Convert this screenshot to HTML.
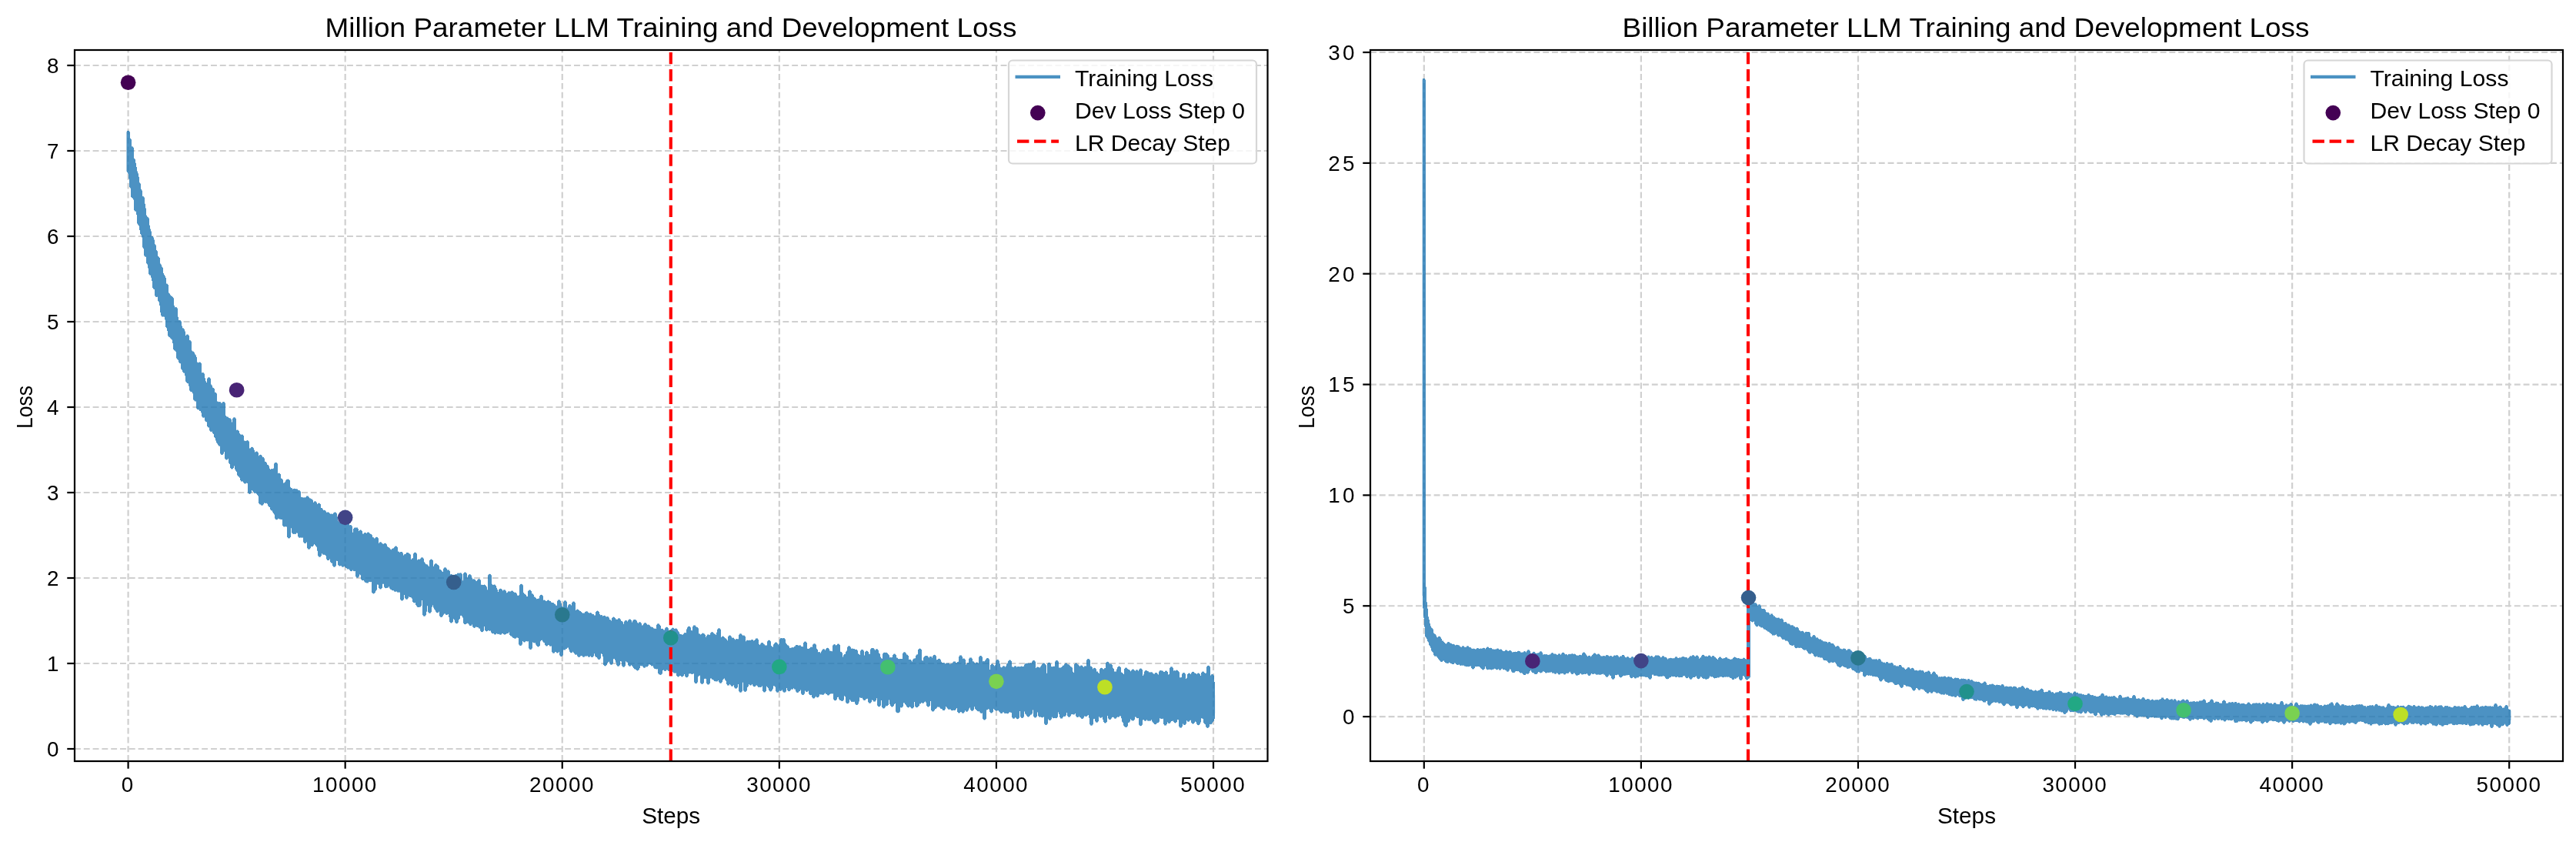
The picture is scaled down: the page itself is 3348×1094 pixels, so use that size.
<!DOCTYPE html><html><head><meta charset="utf-8"><style>html,body{margin:0;padding:0;background:#fff;}svg{display:block;will-change:transform;-webkit-font-smoothing:antialiased;}</style></head><body>
<svg width="3348" height="1094" viewBox="0 0 3348 1094" font-family='"Liberation Sans", sans-serif'>
<rect x="0" y="0" width="3348" height="1094" fill="#ffffff"/>
<clipPath id="clip0"><rect x="97.0" y="65.0" width="1550.5" height="924.0"/></clipPath>
<g clip-path="url(#clip0)" stroke="#d0d0d0" stroke-width="2.22" fill="none" stroke-dasharray="7.9 3.9">
<line x1="166.60" y1="989.0" x2="166.60" y2="65.0"/>
<line x1="448.68" y1="989.0" x2="448.68" y2="65.0"/>
<line x1="730.76" y1="989.0" x2="730.76" y2="65.0"/>
<line x1="1012.84" y1="989.0" x2="1012.84" y2="65.0"/>
<line x1="1294.92" y1="989.0" x2="1294.92" y2="65.0"/>
<line x1="1577.00" y1="989.0" x2="1577.00" y2="65.0"/>
<line x1="97.0" y1="973.00" x2="1647.5" y2="973.00"/>
<line x1="97.0" y1="862.00" x2="1647.5" y2="862.00"/>
<line x1="97.0" y1="751.00" x2="1647.5" y2="751.00"/>
<line x1="97.0" y1="640.00" x2="1647.5" y2="640.00"/>
<line x1="97.0" y1="529.00" x2="1647.5" y2="529.00"/>
<line x1="97.0" y1="418.00" x2="1647.5" y2="418.00"/>
<line x1="97.0" y1="307.00" x2="1647.5" y2="307.00"/>
<line x1="97.0" y1="196.00" x2="1647.5" y2="196.00"/>
<line x1="97.0" y1="85.00" x2="1647.5" y2="85.00"/>
</g>
<g clip-path="url(#clip0)"><path d="M164.5,171.3H165V170.0H166V169.8H167V170.0H168V171.3H169V179.7H170V180.9H171V190.2H172V190.5H173V191.7H174V205.7H175V206.9H176V211.7H177V217.0H178V222.5H179V225.3H180V229.7H181V237.3H182V238.5H183V245.8H184V247.5H185V255.0H186V255.2H187V256.5H188V264.8H189V270.5H190V279.8H191V281.4H192V282.3H193V283.6H194V292.7H195V297.6H196V300.6H197V306.9H198V307.1H199V308.4H200V311.4H201V317.2H202V318.5H203V325.1H204V326.3H205V332.7H206V333.8H207V335.0H208V342.4H209V343.7H210V346.6H211V347.8H212V355.1H213V356.9H214V358.8H215V361.0H216V368.5H217V368.8H218V370.0H219V380.4H220V381.6H221V383.2H222V384.4H223V384.7H224V385.9H225V387.2H226V397.1H227V399.3H228V399.0H229V399.3H230V400.5H231V411.7H232V415.9H233V416.0H234V416.2H235V417.5H236V423.6H237V426.2H238V426.5H239V427.7H240V430.5H241V435.9H242V434.7H243V434.4H244V434.7H245V435.9H246V442.1H247V442.3H248V443.6H249V455.5H250V456.4H251V456.7H252V457.9H253V460.2H254V461.4H255V464.0H256V470.5H257V471.2H258V470.7H259V470.5H260V470.7H261V472.0H262V484.2H263V484.0H264V484.2H265V485.5H266V491.2H267V495.3H268V497.1H269V491.8H270V490.5H271V490.3H272V490.5H273V491.8H274V499.4H275V500.7H276V503.6H277V503.9H278V505.1H279V509.7H280V510.0H281V511.2H282V521.4H283V521.7H284V522.2H285V522.0H286V522.2H287V523.5H288V523.4H289V522.2H290V521.9H291V522.2H292V523.4H293V540.0H294V541.2H295V541.4H296V541.7H297V542.9H298V543.2H299V543.5H300V544.7H301V548.4H302V543.8H303V542.5H304V542.3H305V542.5H306V543.8H307V558.8H308V558.6H309V558.8H310V560.1H311V563.0H312V564.2H313V564.8H314V564.5H315V564.8H316V566.0H317V572.6H318V572.7H319V573.0H320V572.4H321V572.1H322V572.4H323V573.6H324V582.4H325V582.2H326V581.0H327V580.7H328V581.0H329V582.2H330V584.8H331V587.6H332V586.8H333V586.6H334V586.8H335V588.1H336V592.2H337V591.0H338V590.7H339V591.0H340V592.2H341V593.9H342V594.1H343V595.4H344V599.8H345V600.0H346V601.3H347V603.7H348V604.1H349V605.4H350V608.8H351V610.1H352V609.2H353V609.0H354V609.2H355V608.6H356V602.3H357V601.1H358V600.9H359V601.1H360V602.3H361V614.9H362V614.6H363V614.9H364V616.1H365V621.5H366V622.1H367V623.3H368V627.4H369V627.2H370V626.3H371V624.3H372V623.0H373V622.8H374V622.6H375V622.9H376V624.1H377V632.8H378V634.0H379V634.3H380V635.5H381V635.1H382V634.8H383V635.1H384V635.2H385V635.2H386V635.5H387V636.7H388V637.0H389V637.3H390V638.5H391V645.8H392V646.1H393V646.3H394V646.4H395V646.2H396V646.4H397V645.9H398V644.6H399V644.4H400V644.6H401V645.9H402V647.2H403V647.4H404V648.3H405V648.6H406V649.8H407V652.7H408V651.5H409V651.2H410V651.5H411V652.7H412V655.1H413V653.9H414V653.6H415V653.9H416V655.1H417V659.9H418V660.1H419V661.4H420V663.0H421V662.8H422V663.0H423V664.3H424V665.8H425V665.5H426V665.5H427V665.7H428V667.0H429V667.8H430V667.6H431V667.8H432V667.8H433V666.5H434V665.7H435V665.4H436V665.7H437V666.9H438V671.3H439V676.4H440V677.5H441V678.7H442V678.6H443V677.4H444V677.1H445V677.4H446V673.3H447V672.1H448V671.8H449V672.1H450V673.3H451V677.8H452V678.0H453V679.3H454V682.2H455V681.9H456V682.2H457V683.4H458V691.8H459V687.0H460V685.7H461V685.5H462V685.6H463V685.4H464V685.6H465V686.9H466V690.0H467V688.8H468V688.5H469V688.8H470V690.0H471V693.5H472V693.4H473V692.2H474V691.9H475V692.2H476V693.1H477V691.8H478V691.6H479V691.8H480V693.1H481V693.8H482V694.1H483V695.3H484V698.0H485V698.3H486V699.5H487V699.2H488V698.0H489V697.7H490V698.0H491V699.2H492V705.8H493V704.6H494V704.3H495V704.6H496V705.8H497V706.4H498V706.7H499V705.9H500V705.7H501V705.9H502V707.2H503V710.1H504V711.0H505V711.3H506V712.2H507V713.4H508V714.2H509V713.0H510V712.5H511V712.2H512V711.0H513V709.8H514V709.5H515V709.8H516V711.0H517V716.4H518V716.7H519V717.7H520V717.1H521V716.9H522V717.1H523V718.4H524V721.4H525V720.2H526V719.9H527V719.4H528V718.1H529V717.9H530V718.1H531V719.1H532V719.4H533V720.6H534V726.8H535V725.6H536V725.3H537V719.3H538V718.1H539V717.8H540V718.1H541V719.3H542V727.5H543V726.7H544V726.4H545V726.7H546V725.8H547V724.5H548V724.3H549V724.5H550V725.8H551V730.2H552V731.5H553V733.0H554V733.2H555V733.4H556V734.7H557V735.9H558V728.1H559V726.9H560V726.6H561V726.9H562V728.1H563V735.8H564V733.6H565V732.4H566V732.1H567V732.4H568V733.6H569V734.0H570V735.2H571V739.8H572V740.0H573V740.9H574V742.2H575V743.1H576V738.8H577V737.6H578V737.3H579V737.6H580V738.8H581V740.6H582V740.4H583V740.6H584V741.9H585V746.2H586V745.9H587V746.2H588V747.4H589V748.7H590V747.4H591V746.2H592V746.0H593V746.0H594V744.7H595V744.5H596V744.7H597V744.6H598V744.3H599V744.6H600V745.8H601V754.2H602V745.0H603V743.8H604V743.5H605V743.8H606V745.0H607V750.2H608V747.6H609V746.4H610V746.1H611V746.4H612V747.6H613V750.4H614V752.5H615V752.2H616V752.5H617V753.1H618V754.4H619V755.1H620V753.6H621V752.4H622V752.1H623V752.4H624V753.6H625V759.7H626V759.7H627V760.0H628V759.9H629V759.6H630V759.9H631V761.1H632V762.4H633V766.3H634V747.2H635V746.0H636V745.7H637V746.0H638V747.2H639V758.8H640V759.9H641V759.7H642V759.4H643V759.7H644V760.9H645V763.8H646V766.0H647V768.9H648V766.1H649V764.9H650V764.7H651V764.9H652V766.1H653V767.5H654V766.4H655V766.2H656V766.4H657V767.7H658V770.3H659V769.7H660V768.5H661V768.2H662V768.5H663V768.4H664V767.7H665V767.5H666V767.7H667V769.0H668V769.8H669V769.8H670V770.1H671V771.3H672V773.6H673V774.1H674V773.2H675V760.3H676V759.1H677V758.8H678V759.1H679V760.3H680V769.9H681V771.4H682V771.7H683V772.9H684V774.8H685V775.0H686V768.0H687V766.8H688V766.5H689V766.8H690V768.0H691V771.3H692V771.5H693V772.7H694V775.5H695V775.8H696V777.0H697V778.3H698V778.1H699V777.7H700V777.4H701V774.2H702V772.9H703V772.7H704V772.9H705V774.2H706V779.8H707V779.6H708V779.9H709V781.1H710V781.1H711V779.9H712V779.6H713V779.9H714V780.9H715V781.1H716V782.4H717V782.9H718V783.1H719V783.3H720V784.6H721V785.1H722V786.4H723V786.7H724V780.7H725V779.5H726V779.2H727V779.5H728V780.7H729V783.7H730V787.5H731V788.6H732V781.8H733V780.5H734V780.3H735V780.5H736V781.8H737V789.3H738V786.6H739V785.3H740V785.1H741V785.3H742V786.6H743V783.1H744V781.8H745V781.6H746V781.8H747V783.1H748V793.1H749V791.9H750V791.6H751V791.9H752V792.7H753V793.8H754V794.0H755V794.9H756V796.1H757V796.7H758V796.5H759V796.4H760V795.1H761V794.5H762V794.3H763V794.5H764V795.7H765V796.2H766V796.4H767V796.1H768V796.4H769V797.6H770V797.9H771V798.1H772V799.4H773V799.4H774V795.1H775V793.9H776V793.6H777V793.9H778V795.1H779V798.0H780V799.2H781V799.1H782V799.3H783V800.6H784V800.0H785V799.8H786V800.0H787V801.3H788V801.2H789V801.0H790V801.2H791V802.5H792V805.0H793V805.3H794V806.5H795V803.1H796V801.9H797V801.6H798V801.9H799V803.1H800V804.4H801V804.7H802V804.7H803V803.4H804V803.2H805V803.4H806V804.7H807V806.7H808V807.0H809V808.2H810V810.7H811V807.4H812V806.2H813V805.9H814V806.2H815V807.4H816V805.9H817V804.7H818V804.4H819V804.7H820V805.9H821V808.4H822V806.6H823V805.3H824V805.1H825V805.1H826V805.4H827V806.6H828V808.7H829V809.7H830V808.4H831V808.2H832V808.4H833V809.7H834V812.6H835V812.3H836V810.6H837V809.4H838V809.1H839V809.4H840V810.6H841V811.8H842V811.6H843V811.8H844V812.6H845V813.9H846V814.4H847V814.7H848V814.9H849V816.2H850V816.7H851V816.6H852V816.9H853V811.7H854V810.4H855V810.2H856V810.4H857V811.7H858V812.9H859V816.9H860V816.7H861V816.9H862V818.2H863V818.4H864V816.3H865V815.1H866V814.8H867V815.1H868V816.3H869V819.1H870V818.3H871V818.0H872V817.1H873V815.9H874V815.6H875V815.9H876V817.1H877V816.7H878V816.4H879V816.7H880V817.9H881V819.9H882V821.3H883V823.6H884V823.9H885V824.1H886V824.7H887V824.4H888V823.5H889V822.3H890V822.1H891V822.3H892V817.6H893V815.3H894V814.0H895V813.8H896V814.0H897V815.3H898V818.9H899V819.2H900V813.9H901V812.6H902V812.4H903V812.6H904V813.9H905V814.8H906V815.1H907V816.3H908V823.2H909V823.4H910V824.5H911V824.1H912V822.9H913V822.6H914V822.9H915V823.5H916V824.7H917V827.7H918V825.9H919V824.6H920V824.4H921V824.6H922V824.9H923V822.6H924V821.4H925V821.1H926V821.4H927V822.4H928V823.4H929V823.7H930V824.9H931V821.7H932V817.8H933V816.5H934V816.3H935V816.5H936V817.8H937V828.1H938V826.9H939V826.6H940V826.9H941V828.1H942V829.2H943V829.5H944V830.7H945V832.2H946V827.1H947V825.8H948V825.6H949V825.8H950V827.1H951V828.7H952V828.4H953V828.7H954V829.9H955V831.3H956V830.3H957V830.0H958V830.3H959V830.2H960V824.7H961V823.5H962V823.2H963V823.5H964V824.7H965V825.7H966V825.4H967V825.7H968V826.9H969V833.2H970V832.0H971V831.7H972V832.0H973V831.9H974V831.7H975V831.9H976V831.3H977V831.0H978V831.3H979V832.5H980V832.1H981V830.9H982V829.6H983V829.4H984V829.6H985V830.9H986V837.1H987V838.1H988V836.4H989V835.2H990V834.9H991V835.2H992V836.4H993V837.2H994V838.5H995V838.6H996V838.4H997V833.3H998V832.0H999V831.8H1000V832.0H1001V833.3H1002V838.9H1003V840.2H1004V840.4H1005V837.2H1006V836.0H1007V834.7H1008V834.5H1009V834.7H1010V836.0H1011V837.4H1012V836.2H1013V830.5H1014V829.2H1015V829.0H1016V829.2H1017V829.3H1018V829.0H1019V829.3H1020V830.5H1021V835.6H1022V836.9H1023V838.3H1024V838.5H1025V839.8H1026V841.9H1027V841.7H1028V841.5H1029V841.2H1030V841.0H1031V841.3H1032V840.0H1033V839.4H1034V838.1H1035V837.9H1036V838.1H1037V838.8H1038V838.6H1039V838.4H1040V838.6H1041V839.9H1042V839.9H1043V840.2H1044V835.0H1045V833.7H1046V833.5H1047V833.7H1048V835.0H1049V842.7H1050V842.9H1051V842.7H1052V842.0H1053V840.7H1054V840.5H1055V840.7H1056V837.6H1057V836.4H1058V836.2H1059V836.4H1060V837.6H1061V842.8H1062V844.0H1063V847.3H1064V847.1H1065V847.3H1066V848.6H1067V846.6H1068V844.7H1069V843.5H1070V843.2H1071V843.5H1072V844.7H1073V843.3H1074V842.1H1075V841.8H1076V842.1H1077V843.3H1078V845.5H1079V845.8H1080V846.0H1081V846.3H1082V838.6H1083V837.4H1084V837.1H1085V837.4H1086V838.6H1087V838.0H1088V836.8H1089V836.5H1090V836.8H1091V838.0H1092V846.7H1093V846.9H1094V848.2H1095V853.4H1096V851.3H1097V850.0H1098V849.8H1099V846.7H1100V845.5H1101V840.7H1102V839.5H1103V839.2H1104V839.5H1105V840.7H1106V842.8H1107V842.5H1108V842.8H1109V842.9H1110V843.1H1111V843.9H1112V843.7H1113V843.9H1114V845.2H1115V849.5H1116V849.8H1117V851.0H1118V845.6H1119V844.3H1120V844.1H1121V844.3H1122V845.6H1123V851.6H1124V847.1H1125V845.9H1126V845.6H1127V845.9H1128V847.1H1129V849.4H1130V849.7H1131V843.4H1132V842.2H1133V841.9H1134V841.9H1135V842.2H1136V843.4H1137V844.8H1138V843.6H1139V843.3H1140V843.6H1141V844.8H1142V848.4H1143V849.6H1144V853.4H1145V855.2H1146V855.8H1147V849.2H1148V847.9H1149V847.7H1150V847.9H1151V847.8H1152V848.1H1153V848.7H1154V850.0H1155V851.3H1156V854.2H1157V853.9H1158V854.2H1159V853.9H1160V851.1H1161V849.8H1162V849.6H1163V849.8H1164V851.1H1165V854.4H1166V854.7H1167V855.9H1168V856.2H1169V856.0H1170V856.1H1171V855.9H1172V856.1H1173V848.8H1174V847.6H1175V847.3H1176V847.6H1177V848.8H1178V850.5H1179V850.8H1180V852.0H1181V857.1H1182V856.8H1183V857.1H1184V858.3H1185V859.5H1186V856.9H1187V855.7H1188V855.4H1189V855.2H1190V851.8H1191V850.6H1192V850.3H1193V844.1H1194V842.9H1195V842.6H1196V842.9H1197V844.1H1198V858.0H1199V858.6H1200V854.3H1201V853.0H1202V852.3H1203V852.1H1204V852.1H1205V852.3H1206V853.6H1207V854.4H1208V853.1H1209V852.9H1210V853.1H1211V854.4H1212V852.2H1213V851.0H1214V850.7H1215V851.0H1216V852.2H1217V857.3H1218V857.0H1219V856.1H1220V855.8H1221V856.1H1222V857.3H1223V859.7H1224V861.0H1225V861.2H1226V861.0H1227V861.2H1228V862.3H1229V861.9H1230V861.6H1231V861.8H1232V861.5H1233V861.8H1234V862.9H1235V862.6H1236V862.3H1237V861.7H1238V860.5H1239V859.6H1240V859.4H1241V859.6H1242V860.9H1243V861.3H1244V860.1H1245V859.8H1246V852.9H1247V851.6H1248V851.4H1249V851.6H1250V852.9H1251V855.7H1252V855.5H1253V855.7H1254V857.0H1255V863.5H1256V862.4H1257V861.1H1258V860.9H1259V855.8H1260V854.6H1261V854.4H1262V854.6H1263V855.8H1264V859.2H1265V859.5H1266V860.7H1267V862.0H1268V860.8H1269V860.5H1270V860.8H1271V861.7H1272V853.4H1273V852.2H1274V851.9H1275V852.2H1276V853.4H1277V859.2H1278V858.9H1279V859.2H1280V858.0H1281V856.5H1282V855.3H1283V855.0H1284V855.3H1285V856.5H1286V869.9H1287V864.0H1288V862.7H1289V862.5H1290V862.7H1291V864.0H1292V865.2H1293V864.2H1294V858.5H1295V857.3H1296V857.0H1297V857.3H1298V858.5H1299V862.3H1300V866.6H1301V867.2H1302V866.8H1303V865.5H1304V865.3H1305V865.5H1306V866.5H1307V865.4H1308V862.8H1309V861.6H1310V859.0H1311V857.8H1312V857.6H1313V857.8H1314V859.0H1315V866.2H1316V866.4H1317V866.7H1318V865.5H1319V865.2H1320V865.5H1321V866.7H1322V866.1H1323V865.9H1324V866.1H1325V866.3H1326V865.9H1327V865.6H1328V865.9H1329V866.0H1330V865.7H1331V863.5H1332V862.3H1333V862.0H1334V861.8H1335V861.8H1336V861.5H1337V861.8H1338V861.6H1339V861.3H1340V861.6H1341V859.5H1342V858.3H1343V858.0H1344V858.3H1345V859.5H1346V867.9H1347V866.7H1348V866.4H1349V866.7H1350V867.1H1351V867.4H1352V865.9H1353V864.6H1354V863.0H1355V861.8H1356V861.5H1357V861.8H1358V863.0H1359V864.3H1360V874.8H1361V862.2H1362V861.0H1363V860.7H1364V861.0H1365V862.2H1366V866.0H1367V866.2H1368V866.0H1369V865.7H1370V865.7H1371V859.6H1372V858.3H1373V858.1H1374V858.3H1375V859.6H1376V867.4H1377V867.4H1378V867.6H1379V867.1H1380V865.9H1381V864.8H1382V864.6H1383V863.0H1384V861.8H1385V861.5H1386V861.8H1387V863.0H1388V863.3H1389V863.5H1390V864.8H1391V866.1H1392V866.4H1393V867.6H1394V872.8H1395V874.1H1396V863.1H1397V861.8H1398V861.6H1399V861.8H1400V863.1H1401V863.5H1402V864.8H1403V865.7H1404V864.7H1405V864.4H1406V864.7H1407V865.9H1408V866.8H1409V865.5H1410V865.3H1411V865.5H1412V857.6H1413V856.3H1414V856.1H1415V856.3H1416V857.6H1417V865.5H1418V865.8H1419V867.0H1420V869.2H1421V868.0H1422V867.7H1423V868.0H1424V869.2H1425V872.4H1426V872.6H1427V873.9H1428V874.9H1429V869.2H1430V868.0H1431V867.7H1432V868.0H1433V869.2H1434V869.5H1435V868.3H1436V868.0H1437V861.2H1438V860.0H1439V859.7H1440V860.0H1441V861.2H1442V862.8H1443V862.5H1444V862.8H1445V864.0H1446V867.8H1447V869.0H1448V872.6H1449V872.4H1450V872.6H1451V869.4H1452V867.1H1453V865.9H1454V865.6H1455V865.9H1456V867.1H1457V873.6H1458V873.9H1459V875.1H1460V876.1H1461V868.9H1462V867.7H1463V867.4H1464V867.7H1465V868.9H1466V869.8H1467V870.0H1468V870.9H1469V872.2H1470V870.9H1471V869.7H1472V869.4H1473V869.7H1474V870.9H1475V871.8H1476V870.5H1477V870.3H1478V870.5H1479V871.8H1480V870.0H1481V868.8H1482V868.5H1483V868.8H1484V870.0H1485V878.0H1486V876.2H1487V872.6H1488V871.3H1489V871.1H1490V871.3H1491V872.1H1492V872.3H1493V873.5H1494V873.3H1495V873.5H1496V873.2H1497V873.5H1498V874.7H1499V875.6H1500V875.4H1501V874.2H1502V873.9H1503V874.2H1504V875.4H1505V876.6H1506V872.4H1507V871.2H1508V870.9H1509V871.2H1510V871.4H1511V871.7H1512V872.9H1513V872.9H1514V871.7H1515V871.4H1516V871.7H1517V872.9H1518V876.4H1519V876.1H1520V867.8H1521V866.5H1522V866.3H1523V866.5H1524V867.8H1525V871.4H1526V871.1H1527V871.4H1528V870.9H1529V870.6H1530V870.9H1531V871.9H1532V873.2H1533V880.3H1534V880.3H1535V880.0H1536V875.4H1537V874.2H1538V873.9H1539V874.2H1540V875.4H1541V882.1H1542V880.8H1543V876.1H1544V874.9H1545V874.6H1546V874.9H1547V876.1H1548V874.3H1549V873.0H1550V872.8H1551V873.0H1552V874.3H1553V874.8H1554V875.1H1555V876.0H1556V874.7H1557V874.5H1558V874.7H1559V876.0H1560V878.0H1561V874.1H1562V872.8H1563V872.6H1564V872.8H1565V874.1H1566V874.8H1567V874.6H1568V866.2H1569V865.0H1570V864.7H1571V865.0H1572V866.2H1573V877.5H1574V876.3H1575V876.1H1576V876.3H1577V877.5H1578V885.9H1579V903.2H1579.1V927.1H1579V933.9H1578V936.8H1577V938.0H1576V939.7H1575V941.0H1574V941.2H1573V941.0H1572V944.4H1571V945.6H1570V945.9H1569V945.6H1568V944.4H1567V941.2H1566V940.5H1565V939.2H1564V934.0H1563V933.6H1562V933.3H1561V938.5H1560V940.7H1559V941.9H1558V942.2H1557V941.9H1556V940.7H1555V938.3H1554V937.5H1553V939.0H1552V940.2H1551V940.5H1550V940.2H1549V939.0H1548V935.7H1547V936.2H1546V937.5H1545V937.7H1544V937.5H1543V936.2H1542V940.6H1541V941.8H1540V942.1H1539V941.8H1538V940.6H1537V944.1H1536V945.4H1535V945.6H1534V945.4H1533V944.1H1532V935.3H1531V935.0H1530V937.9H1529V939.1H1528V939.4H1527V939.1H1526V937.9H1525V936.6H1524V936.9H1523V937.0H1522V938.5H1521V939.7H1520V939.9H1519V939.7H1518V938.5H1517V941.1H1516V942.4H1515V942.6H1514V942.4H1513V941.1H1512V933.7H1511V934.0H1510V933.9H1509V933.7H1508V933.3H1507V937.7H1506V938.9H1505V939.2H1504V939.8H1503V941.1H1502V941.3H1501V941.1H1500V939.8H1499V938.7H1498V937.4H1497V935.3H1496V936.5H1495V936.7H1494V936.5H1493V936.8H1492V936.5H1491V935.3H1490V936.5H1489V936.8H1488V936.5H1487V935.3H1486V935.4H1485V941.8H1484V943.0H1483V943.3H1482V943.0H1481V941.8H1480V932.9H1479V933.2H1478V932.9H1477V931.7H1476V931.5H1475V935.1H1474V936.3H1473V936.6H1472V936.3H1471V935.7H1470V934.5H1469V937.5H1468V938.8H1467V939.0H1466V943.6H1465V944.8H1464V945.1H1463V944.8H1462V944.1H1461V942.8H1460V938.9H1459V937.7H1458V933.2H1457V930.4H1456V930.3H1455V931.5H1454V931.8H1453V931.5H1452V932.2H1451V933.5H1450V933.7H1449V933.5H1448V932.2H1447V931.8H1446V932.0H1445V933.6H1444V934.8H1443V935.1H1442V934.8H1441V933.6H1440V929.9H1439V938.1H1438V939.3H1437V939.6H1436V939.3H1435V938.1H1434V934.9H1433V931.7H1432V932.6H1431V932.8H1430V932.6H1429V931.3H1428V937.3H1427V938.6H1426V938.8H1425V938.6H1424V937.3H1423V934.0H1422V934.2H1421V941.3H1420V942.5H1419V942.8H1418V942.5H1417V941.3H1416V932.7H1415V929.0H1414V929.8H1413V930.7H1412V931.0H1411V930.7H1410V930.5H1409V932.4H1408V933.7H1407V933.9H1406V933.7H1405V932.5H1404V931.9H1403V930.7H1402V931.8H1401V932.1H1400V931.8H1399V930.6H1398V927.1H1397V928.3H1396V928.6H1395V928.3H1394V928.0H1393V928.2H1392V930.2H1391V931.5H1390V931.7H1389V931.5H1388V930.2H1387V926.0H1386V929.5H1385V930.7H1384V931.0H1383V930.7H1382V932.1H1381V933.4H1380V933.6H1379V933.4H1378V932.1H1377V928.1H1376V925.4H1375V931.7H1374V932.9H1373V933.2H1372V932.9H1371V933.0H1370V933.2H1369V933.0H1368V931.7H1367V934.5H1366V935.7H1365V936.0H1364V935.7H1363V934.5H1362V940.5H1361V941.8H1360V942.0H1359V941.8H1358V940.5H1357V931.6H1356V932.1H1355V932.4H1354V932.1H1353V931.6H1352V931.8H1351V931.6H1350V930.3H1349V925.4H1348V931.1H1347V932.3H1346V932.5H1345V932.3H1344V931.1H1343V922.6H1342V927.2H1341V928.5H1340V928.7H1339V930.0H1338V931.2H1337V931.5H1336V931.2H1335V930.0H1334V928.6H1333V927.4H1332V924.4H1331V931.4H1330V932.7H1329V932.9H1328V932.7H1327V931.4H1326V924.1H1325V932.7H1324V933.9H1323V934.2H1322V933.9H1321V932.7H1320V932.3H1319V933.5H1318V933.8H1317V933.5H1316V932.3H1315V926.0H1314V925.7H1313V925.3H1312V925.7H1311V927.0H1310V927.2H1309V927.0H1308V926.8H1307V927.1H1306V926.8H1305V925.6H1304V925.4H1303V926.7H1302V926.9H1301V926.7H1300V925.4H1299V924.6H1298V923.3H1297V923.3H1296V923.5H1295V923.4H1294V923.1H1293V922.2H1292V920.9H1291V924.9H1290V926.2H1289V926.4H1288V926.2H1287V924.9H1286V921.7H1285V921.3H1284V922.2H1283V922.5H1282V934.0H1281V935.3H1280V935.5H1279V935.3H1278V934.0H1277V926.6H1276V926.9H1275V926.6H1274V925.4H1273V924.1H1272V924.4H1271V924.1H1270V922.9H1269V922.2H1268V921.0H1267V918.3H1266V922.2H1265V923.4H1264V923.7H1263V923.4H1262V922.2H1261V919.5H1260V920.8H1259V923.3H1258V924.5H1257V924.8H1256V924.5H1255V923.3H1254V925.3H1253V926.6H1252V926.8H1251V926.6H1250V925.3H1249V925.0H1248V926.2H1247V926.4H1246V926.2H1245V925.0H1244V920.0H1243V921.4H1242V922.7H1241V922.9H1240V922.7H1239V923.0H1238V923.2H1237V923.0H1236V921.7H1235V921.6H1234V921.9H1233V921.6H1232V920.4H1231V919.2H1230V918.0H1229V921.6H1228V922.9H1227V923.1H1226V922.9H1225V921.6H1224V921.0H1223V920.7H1222V919.5H1221V918.5H1220V918.8H1219V918.5H1218V919.7H1217V921.0H1216V921.2H1215V923.1H1214V924.3H1213V924.6H1212V924.3H1211V923.1H1210V911.0H1209V917.0H1208V918.2H1207V918.5H1206V918.2H1205V917.0H1204V912.8H1203V911.5H1202V912.3H1201V913.5H1200V913.8H1199V913.5H1198V913.1H1197V914.4H1196V914.6H1195V916.9H1194V918.1H1193V919.0H1192V919.3H1191V919.0H1190V917.8H1189V912.0H1188V918.9H1187V920.2H1186V920.4H1185V920.2H1184V918.9H1183V917.9H1182V919.1H1181V919.4H1180V919.1H1179V917.9H1178V916.3H1177V915.1H1176V913.5H1175V913.2H1174V917.9H1173V919.2H1172V919.4H1171V919.2H1170V924.8H1169V926.1H1168V926.3H1167V926.3H1166V926.1H1165V924.8H1164V914.1H1163V915.1H1162V916.9H1161V918.2H1160V918.4H1159V918.2H1158V916.9H1157V915.1H1156V909.6H1155V915.9H1154V917.1H1153V917.4H1152V917.1H1151V918.9H1150V920.2H1149V920.4H1148V920.2H1147V918.9H1146V909.9H1145V916.7H1144V917.9H1143V918.2H1142V917.9H1141V916.7H1140V907.3H1139V910.1H1138V911.4H1137V911.6H1136V911.4H1135V910.1H1134V909.4H1133V912.2H1132V913.4H1131V913.7H1130V913.4H1129V912.2H1128V907.7H1127V907.9H1126V908.5H1125V909.7H1124V910.0H1123V909.7H1122V908.5H1121V906.8H1120V907.1H1119V906.8H1118V906.3H1117V911.4H1116V914.6H1115V915.8H1114V916.1H1113V915.8H1112V914.6H1111V911.8H1110V912.1H1109V911.8H1108V911.9H1107V911.7H1106V910.4H1105V908.9H1104V912.8H1103V914.1H1102V914.3H1101V914.1H1100V912.8H1099V905.2H1098V904.3H1097V909.5H1096V910.7H1095V911.0H1094V910.7H1093V910.0H1092V909.7H1091V908.5H1090V905.8H1089V906.0H1088V908.7H1087V910.0H1086V910.2H1085V910.0H1084V908.7H1083V901.3H1082V901.6H1081V901.3H1080V901.4H1079V902.1H1078V903.3H1077V903.6H1076V903.3H1075V902.1H1074V901.7H1073V900.5H1072V901.4H1071V902.6H1070V902.9H1069V902.6H1068V902.6H1067V902.4H1066V902.2H1065V904.8H1064V906.1H1063V906.3H1062V906.1H1061V904.8H1060V905.9H1059V907.2H1058V907.4H1057V907.2H1056V905.9H1055V903.1H1054V903.3H1053V903.1H1052V901.8H1051V897.8H1050V898.8H1049V899.1H1048V898.8H1047V897.6H1046V901.4H1045V902.7H1044V902.9H1043V902.7H1042V901.4H1041V896.6H1040V897.9H1039V898.5H1038V899.8H1037V900.0H1036V899.8H1035V898.5H1034V895.7H1033V895.4H1032V894.3H1031V895.5H1030V895.8H1029V895.5H1028V896.8H1027V898.0H1026V898.3H1025V898.0H1024V896.8H1023V894.0H1022V898.4H1021V899.6H1020V899.8H1019V899.6H1018V898.4H1017V896.4H1016V897.6H1015V897.9H1014V897.6H1013V898.2H1012V899.5H1011V899.7H1010V899.5H1009V898.2H1008V892.6H1007V891.4H1006V891.2H1005V895.0H1004V896.9H1003V898.2H1002V898.4H1001V898.2H1000V896.9H999V894.3H998V893.0H997V891.8H996V898.1H995V899.3H994V899.6H993V899.3H992V898.1H991V891.5H990V892.7H989V893.0H988V892.8H987V893.1H986V892.8H985V891.6H984V890.4H983V890.8H982V892.0H981V892.2H980V892.0H979V890.8H978V889.0H977V890.3H976V890.5H975V890.3H974V889.0H973V891.7H972V893.0H971V897.4H970V898.6H969V898.9H968V898.6H967V897.4H966V886.7H965V898.2H964V899.4H963V899.7H962V899.4H961V898.2H960V889.1H959V893.2H958V894.4H957V894.6H956V894.4H955V893.2H954V890.3H953V891.5H952V891.8H951V891.5H950V890.3H949V889.1H948V890.4H947V890.6H946V890.4H945V889.1H944V884.8H943V883.5H942V881.6H941V882.2H940V883.4H939V886.3H938V887.5H937V887.8H936V887.5H935V886.3H934V884.0H933V885.2H932V885.5H931V885.2H930V885.2H929V884.9H928V883.7H927V883.1H926V882.8H925V881.6H924V881.5H923V888.1H922V889.3H921V889.6H920V889.3H919V888.1H918V882.1H917V881.8H916V882.1H915V887.4H914V888.6H913V888.9H912V888.6H911V887.4H910V877.7H909V877.9H908V879.2H907V886.6H906V887.9H905V888.1H904V887.9H903V886.6H902V875.2H901V875.8H900V876.0H899V875.8H898V875.3H897V875.2H896V875.5H895V878.7H894V880.0H893V880.2H892V880.0H891V878.7H890V876.0H889V877.9H888V879.1H887V879.4H886V879.1H885V877.9H884V877.9H883V879.1H882V879.4H881V879.1H880V877.9H879V874.6H878V874.8H877V874.6H876V874.4H875V873.1H874V870.9H873V870.7H872V870.8H871V871.7H870V871.9H869V871.7H868V870.8H867V870.6H866V871.7H865V872.0H864V871.7H863V870.5H862V871.0H861V875.4H860V876.6H859V876.9H858V876.6H857V876.3H856V875.1H855V869.2H854V869.4H853V869.2H852V869.0H851V868.8H850V867.5H849V865.3H848V865.6H847V865.3H846V864.1H845V863.6H844V863.3H843V865.1H842V866.3H841V866.6H840V866.3H839V867.5H838V867.7H837V867.5H836V866.2H835V865.1H834V865.4H833V865.1H832V868.0H831V869.9H830V871.1H829V871.4H828V871.1H827V869.9H826V869.5H825V869.2H824V868.0H823V866.4H822V865.2H821V864.3H820V865.5H819V865.8H818V865.5H817V864.3H816V860.7H815V860.4H814V859.2H813V865.3H812V866.5H811V866.8H810V866.5H809V865.3H808V859.4H807V859.1H806V864.2H805V865.5H804V865.7H803V865.5H802V864.2H801V860.8H800V857.8H799V856.0H798V856.2H797V862.3H796V863.6H795V863.8H794V863.6H793V862.3H792V859.8H791V860.6H790V861.8H789V863.9H788V865.1H787V865.4H786V865.1H785V863.9H784V852.9H783V849.9H782V849.2H781V855.6H780V856.8H779V857.1H778V856.8H777V855.6H776V854.0H775V853.7H774V852.5H773V849.2H772V852.5H771V853.7H770V854.0H769V853.7H768V852.5H767V853.6H766V853.8H765V853.6H764V852.3H763V852.5H762V852.8H761V852.5H760V853.6H759V853.8H758V853.6H757V852.3H756V852.0H755V852.4H754V853.6H753V853.9H752V853.6H751V852.4H750V850.5H749V850.7H748V850.5H747V849.2H746V847.9H745V846.7H744V847.9H743V848.2H742V847.9H741V846.7H740V844.0H739V841.6H738V841.8H737V843.0H736V843.3H735V844.4H734V844.6H733V844.4H732V851.6H731V852.8H730V853.1H729V852.8H728V851.6H727V847.0H726V848.3H725V848.5H724V848.3H723V847.0H722V847.3H721V848.6H720V848.8H719V848.6H718V847.3H717V839.6H716V839.8H715V839.6H714V838.3H713V838.0H712V839.2H711V839.5H710V839.2H709V838.0H708V835.2H707V834.8H706V833.6H705V831.7H704V831.9H703V833.2H702V838.9H701V840.1H700V840.4H699V840.1H698V838.9H697V837.4H696V835.2H695V835.5H694V835.2H693V834.5H692V842.4H691V843.7H690V843.9H689V843.7H688V842.4H687V833.2H686V833.4H685V833.2H684V833.0H683V834.3H682V834.5H681V834.3H680V833.0H679V837.6H678V838.8H677V839.1H676V838.8H675V837.6H674V829.0H673V828.6H672V828.4H671V829.5H670V829.7H669V829.5H668V828.9H667V828.6H666V827.4H665V826.5H664V826.2H663V825.0H662V821.6H661V822.9H660V823.1H659V823.2H658V824.1H657V824.4H656V824.4H655V824.1H654V822.9H653V823.3H652V824.6H651V824.8H650V824.6H649V823.7H648V824.0H647V823.7H646V823.1H645V824.3H644V824.5H643V824.3H642V823.1H641V823.2H640V823.0H639V821.8H638V819.5H637V819.8H636V819.5H635V818.9H634V820.1H633V820.4H632V820.1H631V818.9H630V813.9H629V819.8H628V821.0H627V821.3H626V821.0H625V819.8H624V816.8H623V816.5H622V815.3H621V815.0H620V814.7H619V814.4H618V815.6H617V815.9H616V815.6H615V814.4H614V811.6H613V812.9H612V813.1H611V812.9H610V811.6H609V810.3H608V809.7H607V810.2H606V811.0H605V811.2H604V811.0H603V809.7H602V802.5H601V800.7H600V799.7H599V800.0H598V803.9H597V805.2H596V808.7H595V809.9H594V810.2H593V809.9H592V808.7H591V805.5H590V804.3H589V808.0H588V809.2H587V809.5H586V809.2H585V808.0H584V802.0H583V798.0H582V798.7H581V798.9H580V798.7H579V797.4H578V797.4H577V798.7H576V800.5H575V801.7H574V802.0H573V801.7H572V800.5H571V794.8H570V796.0H569V796.3H568V796.0H567V794.8H566V792.8H565V791.6H564V789.6H563V786.6H562V788.7H561V795.2H560V796.4H559V796.7H558V796.4H557V795.2H556V787.2H555V794.7H554V799.3H553V800.6H552V800.8H551V800.6H550V799.3H549V780.0H548V787.2H547V788.4H546V788.8H545V789.1H544V789.1H543V788.8H542V787.6H541V786.1H540V783.1H539V783.4H538V783.1H537V781.9H536V777.8H535V776.6H534V776.1H533V775.9H532V775.3H531V777.3H530V778.5H529V778.8H528V778.5H527V777.3H526V773.1H525V779.0H524V780.2H523V780.5H522V780.2H521V779.0H520V769.7H519V769.5H518V769.7H517V769.5H516V768.5H515V768.8H514V768.8H513V768.5H512V767.3H511V767.3H510V767.1H509V765.9H508V765.7H507V764.4H506V762.3H505V763.5H504V763.8H503V764.0H502V764.2H501V764.0H500V762.7H499V758.8H498V758.7H497V764.0H496V765.2H495V765.5H494V765.2H493V764.0H492V759.7H491V759.4H490V766.6H489V767.8H488V769.9H487V771.1H486V771.4H485V771.1H484V769.9H483V756.1H482V756.3H481V756.1H480V756.1H479V757.4H478V757.6H477V757.4H476V756.9H475V756.7H474V755.4H473V753.9H472V754.2H471V753.9H470V752.7H469V747.3H468V746.4H467V749.3H466V750.5H465V750.8H464V750.5H463V749.3H462V741.9H461V742.2H460V741.9H459V740.7H458V741.9H457V742.2H456V741.9H455V740.7H454V739.4H453V739.6H452V739.4H451V738.2H450V738.0H449V736.7H448V735.8H447V736.6H446V736.8H445V736.6H444V735.3H443V735.3H442V735.5H441V735.3H440V734.0H439V728.9H438V728.7H437V735.2H436V736.4H435V736.7H434V736.4H433V735.2H432V731.7H431V731.4H430V730.2H429V726.6H428V727.9H427V728.1H426V727.9H425V726.6H424V722.2H423V721.0H422V720.7H421V720.7H420V720.4H419V719.3H418V722.2H417V723.5H416V723.7H415V723.5H414V722.2H413V715.8H412V710.8H411V709.5H410V708.2H409V707.0H408V708.8H407V710.0H406V710.3H405V710.0H404V712.2H403V713.4H402V713.7H401V713.4H400V712.2H399V704.5H398V705.7H397V706.0H396V705.7H395V704.5H394V698.4H393V698.7H392V698.4H391V698.4H390V698.7H389V698.4H388V697.2H387V692.7H386V692.6H385V693.8H384V694.1H383V693.8H382V693.9H381V693.6H380V692.4H379V686.2H378V698.0H377V699.2H376V699.5H375V699.2H374V698.0H373V684.6H372V684.3H371V684.3H370V684.5H369V684.3H368V683.0H367V675.0H366V675.0H365V674.7H364V674.5H363V674.3H362V673.8H361V675.1H360V675.3H359V675.1H358V673.8H357V668.5H356V666.9H355V665.6H354V663.4H353V663.2H352V661.9H351V659.0H350V658.5H349V657.3H348V654.8H347V653.7H346V653.9H345V653.7H344V653.4H343V655.2H342V656.5H341V656.7H340V656.5H339V655.6H338V655.3H337V654.1H336V644.6H335V643.1H334V641.7H333V640.7H332V641.0H331V640.7H330V639.5H329V638.3H328V637.0H327V640.4H326V641.6H325V641.9H324V641.6H323V640.4H322V627.9H321V627.6H320V628.2H319V628.4H318V628.2H317V626.9H316V625.4H315V625.6H314V625.4H313V624.1H312V620.7H311V619.4H310V618.7H309V617.4H308V613.1H307V611.8H306V610.0H305V605.6H304V608.0H303V609.2H302V609.5H301V609.2H300V608.0H299V603.1H298V601.8H297V595.9H296V597.2H295V597.4H294V597.2H293V595.9H292V587.1H291V589.5H290V590.7H289V591.0H288V590.7H287V589.5H286V579.7H285V579.4H284V578.2H283V576.5H282V575.3H281V572.6H280V569.2H279V568.0H278V564.1H277V562.9H276V560.8H275V561.0H274V560.8H273V559.5H272V555.6H271V555.3H270V554.1H269V548.2H268V548.0H267V546.7H266V542.5H265V542.7H264V542.5H263V541.2H262V536.3H261V534.1H260V533.9H259V532.6H258V532.3H257V532.0H256V530.8H255V521.6H254V521.4H253V520.6H252V519.4H251V511.3H250V509.5H249V509.0H248V508.7H247V507.5H246V501.7H245V498.2H244V497.9H243V497.1H242V495.8H241V488.2H240V484.8H239V484.6H238V483.3H237V480.7H236V479.5H235V472.2H234V472.0H233V470.7H232V467.8H231V466.7H230V465.4H229V457.0H228V455.8H227V455.3H226V454.0H225V445.9H224V441.5H223V440.6H222V439.4H221V438.2H220V437.7H219V436.4H218V429.9H217V426.3H216V425.1H215V415.6H214V411.7H213V411.4H212V411.6H211V411.4H210V410.1H209V406.1H208V397.0H207V392.6H206V390.9H205V385.7H204V385.9H203V385.7H202V384.4H201V376.0H200V375.4H199V374.1H198V364.9H197V360.7H196V357.7H195V357.5H194V356.2H193V348.5H192V343.5H191V342.3H190V333.7H189V333.4H188V332.2H187V322.9H186V321.6H185V308.6H184V305.4H183V304.1H182V298.9H181V293.5H180V292.1H179V290.6H178V279.1H177V274.7H176V274.5H175V273.2H174V259.5H173V257.7H172V257.1H171V255.9H170V244.6H169V243.3H168V232.4H167V225.8H166V224.0H165V222.7H164.5Z" fill="#1f77b4" fill-opacity="0.8"/></g>
<g clip-path="url(#clip0)"><line x1="871.80" y1="989.0" x2="871.80" y2="65.0" stroke="#ff0000" stroke-width="4.17" stroke-dasharray="15.42 6.67"/></g>
<circle cx="166.60" cy="107.20" r="9.82" fill="#440154"/>
<circle cx="307.64" cy="506.80" r="9.82" fill="#482475"/>
<circle cx="448.68" cy="672.41" r="9.82" fill="#414487"/>
<circle cx="589.72" cy="756.55" r="9.82" fill="#355f8d"/>
<circle cx="730.76" cy="798.73" r="9.82" fill="#2a788e"/>
<circle cx="871.80" cy="828.70" r="9.82" fill="#21918c"/>
<circle cx="1012.84" cy="866.44" r="9.82" fill="#22a884"/>
<circle cx="1153.88" cy="866.77" r="9.82" fill="#44bf70"/>
<circle cx="1294.92" cy="885.31" r="9.82" fill="#7ad151"/>
<circle cx="1435.96" cy="892.80" r="9.82" fill="#bddf26"/>
<rect x="97.0" y="65.0" width="1550.5" height="924.0" fill="none" stroke="#000" stroke-width="2.22" stroke-linejoin="miter"/>
<g stroke="#000" stroke-width="2.22">
<line x1="166.60" y1="989.0" x2="166.60" y2="998.72"/>
<line x1="448.68" y1="989.0" x2="448.68" y2="998.72"/>
<line x1="730.76" y1="989.0" x2="730.76" y2="998.72"/>
<line x1="1012.84" y1="989.0" x2="1012.84" y2="998.72"/>
<line x1="1294.92" y1="989.0" x2="1294.92" y2="998.72"/>
<line x1="1577.00" y1="989.0" x2="1577.00" y2="998.72"/>
<line x1="97.0" y1="973.00" x2="87.28" y2="973.00"/>
<line x1="97.0" y1="862.00" x2="87.28" y2="862.00"/>
<line x1="97.0" y1="751.00" x2="87.28" y2="751.00"/>
<line x1="97.0" y1="640.00" x2="87.28" y2="640.00"/>
<line x1="97.0" y1="529.00" x2="87.28" y2="529.00"/>
<line x1="97.0" y1="418.00" x2="87.28" y2="418.00"/>
<line x1="97.0" y1="307.00" x2="87.28" y2="307.00"/>
<line x1="97.0" y1="196.00" x2="87.28" y2="196.00"/>
<line x1="97.0" y1="85.00" x2="87.28" y2="85.00"/>
</g>
<g font-size="27.8" fill="#000">
<text x="165.60" y="1029.1" text-anchor="middle" textLength="16.7" lengthAdjust="spacing">0</text>
<text x="447.68" y="1029.1" text-anchor="middle" textLength="83.3" lengthAdjust="spacing">10000</text>
<text x="729.76" y="1029.1" text-anchor="middle" textLength="83.3" lengthAdjust="spacing">20000</text>
<text x="1011.84" y="1029.1" text-anchor="middle" textLength="83.3" lengthAdjust="spacing">30000</text>
<text x="1293.92" y="1029.1" text-anchor="middle" textLength="83.3" lengthAdjust="spacing">40000</text>
<text x="1576.00" y="1029.1" text-anchor="middle" textLength="83.3" lengthAdjust="spacing">50000</text>
<text x="76.38" y="982.85" text-anchor="end" textLength="17.1" lengthAdjust="spacing">0</text>
<text x="76.38" y="871.85" text-anchor="end" textLength="17.1" lengthAdjust="spacing">1</text>
<text x="76.38" y="760.85" text-anchor="end" textLength="17.1" lengthAdjust="spacing">2</text>
<text x="76.38" y="649.85" text-anchor="end" textLength="17.1" lengthAdjust="spacing">3</text>
<text x="76.38" y="538.85" text-anchor="end" textLength="17.1" lengthAdjust="spacing">4</text>
<text x="76.38" y="427.85" text-anchor="end" textLength="17.1" lengthAdjust="spacing">5</text>
<text x="76.38" y="316.85" text-anchor="end" textLength="17.1" lengthAdjust="spacing">6</text>
<text x="76.38" y="205.85" text-anchor="end" textLength="17.1" lengthAdjust="spacing">7</text>
<text x="76.38" y="94.85" text-anchor="end" textLength="17.1" lengthAdjust="spacing">8</text>
</g>
<text x="872.2" y="1069.7" font-size="28.6" text-anchor="middle" textLength="76" lengthAdjust="spacingAndGlyphs">Steps</text>
<text transform="translate(41.6,529.0) rotate(-90)" x="0" y="0" font-size="28.6" text-anchor="middle" textLength="56" lengthAdjust="spacingAndGlyphs">Loss</text>
<text x="872.0" y="47.6" font-size="35.8" text-anchor="middle" textLength="899" lengthAdjust="spacingAndGlyphs">Million Parameter LLM Training and Development Loss</text>
<rect x="1311.0" y="78.5" width="322" height="134" rx="5" ry="5" fill="#ffffff" fill-opacity="0.8" stroke="#d6d6d6" stroke-width="2.22"/>
<g opacity="0.8"><line x1="1319.5" y1="99.9" x2="1378.0" y2="99.9" stroke="#1f77b4" stroke-width="4.17"/></g>
<circle cx="1348.8" cy="146.6" r="9.82" fill="#440154"/>
<line x1="1322.0" y1="183.6" x2="1376.0" y2="183.6" stroke="#ff0000" stroke-width="4.17" stroke-dasharray="15.42 6.67"/>
<text x="1397.0" y="112.2" font-size="28.6" textLength="180" lengthAdjust="spacingAndGlyphs">Training Loss</text>
<text x="1397.0" y="153.7" font-size="28.6" textLength="221" lengthAdjust="spacingAndGlyphs">Dev Loss Step 0</text>
<text x="1397.0" y="195.9" font-size="28.6" textLength="202" lengthAdjust="spacingAndGlyphs">LR Decay Step</text>
<clipPath id="clip1"><rect x="1781.0" y="65.0" width="1550.0" height="924.0"/></clipPath>
<g clip-path="url(#clip1)" stroke="#d0d0d0" stroke-width="2.22" fill="none" stroke-dasharray="7.9 3.9">
<line x1="1850.80" y1="989.0" x2="1850.80" y2="65.0"/>
<line x1="2132.88" y1="989.0" x2="2132.88" y2="65.0"/>
<line x1="2414.96" y1="989.0" x2="2414.96" y2="65.0"/>
<line x1="2697.04" y1="989.0" x2="2697.04" y2="65.0"/>
<line x1="2979.12" y1="989.0" x2="2979.12" y2="65.0"/>
<line x1="3261.20" y1="989.0" x2="3261.20" y2="65.0"/>
<line x1="1781.0" y1="931.10" x2="3331.0" y2="931.10"/>
<line x1="1781.0" y1="787.25" x2="3331.0" y2="787.25"/>
<line x1="1781.0" y1="643.40" x2="3331.0" y2="643.40"/>
<line x1="1781.0" y1="499.55" x2="3331.0" y2="499.55"/>
<line x1="1781.0" y1="355.70" x2="3331.0" y2="355.70"/>
<line x1="1781.0" y1="211.85" x2="3331.0" y2="211.85"/>
<line x1="1781.0" y1="68.00" x2="3331.0" y2="68.00"/>
</g>
<g clip-path="url(#clip1)"><path d="M1848.7,103.4H1849V102.1H1850V101.9H1851V102.1H1852V103.4H1853V762.4H1854V782.3H1855V790.7H1856V801.3H1857V805.0H1858V810.0H1859V813.5H1860V815.5H1861V816.2H1862V817.5H1863V822.4H1864V823.6H1865V824.1H1866V825.4H1867V827.7H1868V828.2H1869V827.0H1870V826.7H1871V827.0H1872V828.2H1873V830.1H1874V832.4H1875V832.6H1876V833.9H1877V834.9H1878V836.1H1879V836.5H1880V835.5H1881V834.3H1882V834.0H1883V834.3H1884V835.2H1885V835.8H1886V836.1H1887V836.9H1888V836.7H1889V836.9H1890V837.5H1891V838.4H1892V838.0H1893V837.8H1894V838.0H1895V838.3H1896V838.6H1897V839.8H1898V840.6H1899V840.7H1900V839.4H1901V839.2H1902V839.4H1903V840.7H1904V840.8H1905V840.7H1906V839.4H1907V839.2H1908V839.4H1909V840.7H1910V840.9H1911V841.2H1912V842.4H1913V842.8H1914V842.9H1915V842.6H1916V842.9H1917V843.5H1918V843.2H1919V842.3H1920V842.1H1921V842.3H1922V843.0H1923V842.7H1924V842.5H1925V842.7H1926V842.4H1927V842.0H1928V841.7H1929V842.0H1930V843.2H1931V842.0H1932V840.8H1933V840.5H1934V840.8H1935V842.0H1936V842.1H1937V841.8H1938V842.1H1939V843.3H1940V843.4H1941V843.6H1942V843.8H1943V843.5H1944V843.4H1945V842.7H1946V842.5H1947V842.7H1948V844.0H1949V843.7H1950V843.4H1951V843.7H1952V844.9H1953V845.9H1954V846.1H1955V846.0H1956V844.8H1957V844.5H1958V844.8H1959V845.7H1960V845.9H1961V845.2H1962V844.9H1963V845.2H1964V846.2H1965V847.5H1966V847.3H1967V847.0H1968V846.9H1969V846.7H1970V846.9H1971V847.1H1972V846.0H1973V845.7H1974V845.9H1975V846.2H1976V847.4H1977V847.7H1978V847.5H1979V847.6H1980V846.4H1981V846.1H1982V846.4H1983V847.6H1984V845.7H1985V844.5H1986V844.3H1987V844.5H1988V845.7H1989V848.6H1990V849.1H1991V848.2H1992V847.0H1993V846.7H1994V847.0H1995V848.2H1996V849.0H1997V848.8H1998V848.6H1999V848.3H2000V847.8H2001V846.6H2002V846.3H2003V846.6H2004V847.8H2005V850.4H2006V850.3H2007V850.1H2008V850.2H2009V850.0H2010V850.2H2011V850.7H2012V850.9H2013V850.6H2014V850.6H2015V849.6H2016V848.4H2017V848.1H2018V848.4H2019V849.6H2020V849.6H2021V849.6H2022V849.9H2023V850.8H2024V850.7H2025V849.5H2026V849.3H2027V849.5H2028V850.8H2029V849.2H2030V848.0H2031V847.7H2032V848.0H2033V849.2H2034V850.2H2035V850.0H2036V850.2H2037V851.2H2038V849.9H2039V849.7H2040V849.9H2041V849.8H2042V849.5H2043V849.3H2044V849.6H2045V849.9H2046V849.6H2047V849.9H2048V851.1H2049V851.8H2050V851.5H2051V851.8H2052V851.0H2053V850.7H2054V851.0H2055V851.2H2056V849.0H2057V847.8H2058V847.5H2059V847.8H2060V849.0H2061V850.6H2062V851.8H2063V852.9H2064V851.9H2065V851.7H2066V851.9H2067V853.2H2068V852.3H2069V851.1H2070V850.0H2071V848.8H2072V848.5H2073V848.8H2074V850.0H2075V850.6H2076V849.8H2077V849.5H2078V849.8H2079V851.0H2080V852.3H2081V852.5H2082V852.6H2083V852.2H2084V851.9H2085V852.2H2086V852.6H2087V851.3H2088V851.1H2089V851.3H2090V851.8H2091V852.7H2092V852.2H2093V852.0H2094V852.2H2095V853.3H2096V853.0H2097V851.7H2098V851.5H2099V851.7H2100V851.4H2101V851.1H2102V851.4H2103V852.6H2104V854.1H2105V852.8H2106V852.6H2107V852.4H2108V851.1H2109V850.9H2110V851.1H2111V852.4H2112V853.9H2113V854.2H2114V853.4H2115V853.1H2116V853.4H2117V854.6H2118V855.1H2119V854.6H2120V853.4H2121V853.1H2122V853.4H2123V854.6H2124V854.6H2125V854.9H2126V855.5H2127V854.6H2128V854.4H2129V854.4H2130V853.4H2131V853.1H2132V852.7H2133V851.5H2134V851.2H2135V851.5H2136V852.7H2137V851.8H2138V851.5H2139V851.8H2140V852.9H2141V851.7H2142V851.4H2143V851.7H2144V852.9H2145V852.4H2146V852.1H2147V852.4H2148V853.6H2149V853.7H2150V852.8H2151V851.6H2152V851.4H2153V851.4H2154V851.6H2155V851.6H2156V851.9H2157V853.1H2158V854.3H2159V853.7H2160V852.4H2161V852.2H2162V852.4H2163V853.7H2164V853.8H2165V854.1H2166V855.3H2167V856.5H2168V855.5H2169V855.2H2170V855.0H2171V854.7H2172V855.0H2173V855.4H2174V855.1H2175V855.4H2176V854.7H2177V853.4H2178V853.2H2179V853.4H2180V854.7H2181V855.1H2182V854.5H2183V854.3H2184V854.5H2185V853.7H2186V853.3H2187V853.1H2188V853.3H2189V853.7H2190V853.9H2191V854.0H2192V854.3H2193V855.5H2194V854.7H2195V853.8H2196V852.5H2197V852.3H2198V852.5H2199V851.4H2200V851.1H2201V851.4H2202V852.6H2203V852.9H2204V851.7H2205V851.4H2206V851.7H2207V852.9H2208V855.7H2209V854.5H2210V854.2H2211V852.3H2212V851.0H2213V850.8H2214V851.0H2215V852.3H2216V852.7H2217V852.5H2218V852.7H2219V852.9H2220V851.7H2221V851.4H2222V851.7H2223V852.9H2224V853.5H2225V852.3H2226V852.1H2227V852.3H2228V853.5H2229V854.0H2230V855.3H2231V856.1H2232V856.9H2233V855.1H2234V853.8H2235V853.6H2236V853.8H2237V855.1H2238V855.8H2239V855.5H2240V855.3H2241V855.1H2242V854.2H2243V854.0H2244V854.2H2245V855.5H2246V855.7H2247V855.9H2248V856.7H2249V856.8H2250V856.6H2251V856.3H2252V855.1H2253V853.9H2254V853.6H2255V853.9H2256V854.5H2257V854.9H2258V855.2H2259V855.0H2260V855.2H2261V855.9H2262V855.7H2263V855.9H2264V856.1H2265V854.9H2266V854.6H2267V854.9H2268V856.1H2269V856.6H2270V781.1H2271V779.9H2272V779.6H2273V779.9H2274V781.1H2275V782.1H2276V782.3H2277V783.6H2278V783.3H2279V783.0H2280V783.3H2281V783.3H2282V783.6H2283V784.8H2284V786.8H2285V785.6H2286V785.3H2287V785.6H2288V786.8H2289V790.5H2290V791.1H2291V791.0H2292V791.0H2293V791.3H2294V792.5H2295V795.1H2296V795.7H2297V795.5H2298V795.7H2299V796.9H2300V798.9H2301V797.6H2302V797.4H2303V797.6H2304V798.9H2305V800.4H2306V800.6H2307V801.9H2308V802.6H2309V802.8H2310V802.8H2311V802.6H2312V802.8H2313V804.1H2314V803.8H2315V803.6H2316V803.8H2317V805.1H2318V808.3H2319V808.3H2320V808.1H2321V808.3H2322V809.6H2323V810.4H2324V810.2H2325V810.4H2326V811.4H2327V812.6H2328V812.3H2329V812.3H2330V812.6H2331V813.8H2332V814.1H2333V815.3H2334V815.0H2335V814.7H2336V815.0H2337V816.2H2338V818.8H2339V819.4H2340V820.3H2341V820.1H2342V819.8H2343V820.1H2344V821.3H2345V822.3H2346V821.1H2347V820.8H2348V821.1H2349V821.1H2350V820.9H2351V821.1H2352V822.3H2353V827.0H2354V827.7H2355V826.5H2356V825.3H2357V825.0H2358V825.3H2359V826.5H2360V828.5H2361V828.3H2362V828.5H2363V829.8H2364V830.6H2365V830.4H2366V830.6H2367V831.7H2368V831.9H2369V833.2H2370V833.3H2371V833.5H2372V833.6H2373V833.8H2374V834.1H2375V835.3H2376V834.3H2377V834.0H2378V834.3H2379V835.5H2380V836.1H2381V835.9H2382V836.1H2383V837.2H2384V838.4H2385V840.3H2386V840.1H2387V839.4H2388V839.1H2389V839.4H2390V840.6H2391V842.5H2392V842.7H2393V843.2H2394V843.4H2395V842.8H2396V842.6H2397V842.8H2398V843.1H2399V844.4H2400V844.8H2401V843.5H2402V843.3H2403V843.3H2404V843.5H2405V844.8H2406V845.4H2407V846.7H2408V847.2H2409V846.9H2410V847.2H2411V848.4H2412V849.1H2413V849.4H2414V850.1H2415V849.9H2416V850.1H2417V851.4H2418V851.5H2419V851.7H2420V851.6H2421V851.9H2422V851.0H2423V850.8H2424V851.0H2425V852.3H2426V854.4H2427V855.0H2428V854.2H2429V854.0H2430V854.0H2431V854.3H2432V855.5H2433V856.4H2434V856.6H2435V856.4H2436V856.6H2437V856.6H2438V856.3H2439V856.6H2440V857.4H2441V856.2H2442V855.9H2443V856.2H2444V857.4H2445V859.5H2446V859.8H2447V860.7H2448V860.4H2449V860.7H2450V861.4H2451V860.2H2452V860.0H2453V860.2H2454V861.4H2455V861.5H2456V861.8H2457V861.3H2458V861.1H2459V861.3H2460V862.6H2461V864.5H2462V864.2H2463V864.5H2464V865.4H2465V865.2H2466V865.4H2467V865.4H2468V864.1H2469V863.9H2470V864.1H2471V865.4H2472V867.1H2473V867.2H2474V867.4H2475V868.7H2476V869.9H2477V869.2H2478V868.5H2479V867.3H2480V867.0H2481V867.3H2482V868.5H2483V869.2H2484V868.0H2485V867.7H2486V868.0H2487V869.2H2488V871.1H2489V871.0H2490V870.7H2491V871.0H2492V871.5H2493V871.2H2494V870.7H2495V870.4H2496V870.7H2497V871.3H2498V871.0H2499V871.3H2500V872.5H2501V874.1H2502V872.9H2503V872.6H2504V872.9H2505V871.8H2506V871.5H2507V871.8H2508V873.0H2509V875.6H2510V875.7H2511V874.1H2512V872.8H2513V872.6H2514V872.8H2515V874.1H2516V876.1H2517V876.3H2518V877.6H2519V879.4H2520V879.1H2521V879.4H2522V879.3H2523V879.1H2524V879.3H2525V879.3H2526V878.8H2527V878.5H2528V878.8H2529V879.7H2530V879.9H2531V879.3H2532V879.1H2533V879.3H2534V879.7H2535V879.4H2536V879.7H2537V880.9H2538V881.9H2539V881.6H2540V880.7H2541V880.4H2542V880.7H2543V881.0H2544V880.8H2545V881.0H2546V882.3H2547V882.5H2548V881.9H2549V881.6H2550V881.9H2551V881.6H2552V881.9H2553V882.0H2554V882.2H2555V882.5H2556V883.5H2557V882.3H2558V882.0H2559V882.3H2560V883.5H2561V883.4H2562V883.1H2563V883.4H2564V884.6H2565V885.3H2566V885.6H2567V885.8H2568V885.5H2569V885.7H2570V885.9H2571V885.7H2572V885.9H2573V887.1H2574V887.4H2575V888.1H2576V887.5H2577V887.0H2578V885.8H2579V885.5H2580V885.8H2581V887.0H2582V889.7H2583V889.8H2584V890.0H2585V889.2H2586V888.9H2587V889.2H2588V888.7H2589V888.5H2590V888.7H2591V889.4H2592V890.0H2593V890.4H2594V889.9H2595V889.6H2596V889.9H2597V889.9H2598V890.1H2599V890.5H2600V890.4H2601V889.2H2602V888.9H2603V889.2H2604V890.4H2605V892.2H2606V891.8H2607V891.5H2608V891.8H2609V892.0H2610V892.3H2611V891.9H2612V891.7H2613V891.7H2614V891.9H2615V893.1H2616V891.9H2617V891.7H2618V891.7H2619V891.9H2620V892.4H2621V893.6H2622V894.3H2623V893.0H2624V892.8H2625V893.0H2626V892.6H2627V891.4H2628V891.1H2629V891.4H2630V892.6H2631V893.7H2632V894.9H2633V893.8H2634V893.5H2635V893.8H2636V894.3H2637V895.5H2638V896.0H2639V895.7H2640V896.0H2641V897.0H2642V897.3H2643V897.8H2644V896.9H2645V896.6H2646V896.9H2647V897.7H2648V897.5H2649V897.0H2650V896.7H2651V896.1H2652V894.9H2653V894.6H2654V894.9H2655V896.1H2656V898.9H2657V899.4H2658V899.1H2659V898.8H2660V899.1H2661V898.4H2662V897.1H2663V896.9H2664V897.1H2665V898.4H2666V899.4H2667V899.1H2668V899.4H2669V900.6H2670V900.9H2671V899.7H2672V899.4H2673V899.6H2674V899.3H2675V899.2H2676V898.0H2677V897.7H2678V897.9H2679V898.2H2680V899.4H2681V900.3H2682V900.0H2683V900.3H2684V900.3H2685V900.0H2686V900.3H2687V899.1H2688V898.8H2689V899.1H2690V900.3H2691V900.3H2692V900.6H2693V901.4H2694V900.0H2695V898.7H2696V898.5H2697V898.7H2698V900.0H2699V899.8H2700V900.1H2701V901.3H2702V901.1H2703V901.4H2704V901.1H2705V901.4H2706V902.2H2707V901.9H2708V902.2H2709V902.9H2710V902.7H2711V902.9H2712V902.4H2713V901.2H2714V900.9H2715V901.2H2716V902.4H2717V902.9H2718V903.3H2719V903.1H2720V903.3H2721V904.2H2722V904.0H2723V904.2H2724V905.1H2725V905.1H2726V905.0H2727V904.7H2728V904.0H2729V903.8H2730V902.2H2731V900.9H2732V900.7H2733V900.9H2734V902.2H2735V904.2H2736V903.7H2737V903.4H2738V903.7H2739V904.9H2740V904.9H2741V904.6H2742V904.9H2743V904.9H2744V904.6H2745V904.9H2746V904.2H2747V903.9H2748V904.2H2749V905.2H2750V906.2H2751V906.4H2752V907.2H2753V904.2H2754V902.9H2755V902.7H2756V902.9H2757V904.2H2758V906.5H2759V906.3H2760V906.5H2761V906.0H2762V905.8H2763V905.8H2764V905.3H2765V905.0H2766V905.3H2767V906.5H2768V907.0H2769V906.8H2770V907.0H2771V904.5H2772V903.3H2773V903.0H2774V903.3H2775V904.5H2776V907.6H2777V907.9H2778V907.5H2779V907.3H2780V907.5H2781V908.2H2782V908.5H2783V907.4H2784V906.2H2785V905.9H2786V906.2H2787V907.4H2788V909.0H2789V909.0H2790V908.2H2791V908.0H2792V908.2H2793V908.6H2794V909.7H2795V909.6H2796V908.9H2797V908.6H2798V908.9H2799V910.1H2800V909.5H2801V909.3H2802V909.3H2803V909.0H2804V909.3H2805V909.5H2806V908.7H2807V908.5H2808V907.9H2809V906.6H2810V906.4H2811V906.6H2812V907.9H2813V909.1H2814V908.6H2815V907.4H2816V907.1H2817V907.4H2818V908.6H2819V909.2H2820V909.0H2821V908.4H2822V908.2H2823V908.4H2824V909.7H2825V908.5H2826V908.3H2827V908.5H2828V909.8H2829V911.2H2830V910.0H2831V909.8H2832V910.0H2833V911.0H2834V910.1H2835V909.6H2836V908.7H2837V908.4H2838V908.7H2839V909.9H2840V910.3H2841V909.0H2842V908.8H2843V909.0H2844V910.3H2845V911.9H2846V911.7H2847V911.5H2848V911.7H2849V911.6H2850V911.3H2851V911.0H2852V911.3H2853V912.0H2854V911.6H2855V911.3H2856V911.6H2857V911.5H2858V910.4H2859V910.2H2860V910.4H2861V910.2H2862V910.0H2863V908.7H2864V908.5H2865V908.7H2866V910.0H2867V913.0H2868V913.3H2869V912.8H2870V912.1H2871V911.8H2872V910.0H2873V908.8H2874V908.5H2875V908.8H2876V910.0H2877V912.8H2878V913.0H2879V911.8H2880V911.5H2881V911.8H2882V911.7H2883V911.9H2884V913.2H2885V913.7H2886V913.5H2887V913.7H2888V911.1H2889V909.9H2890V909.6H2891V909.9H2892V911.1H2893V913.7H2894V913.4H2895V913.7H2896V912.6H2897V912.3H2898V912.4H2899V912.7H2900V912.3H2901V912.0H2902V912.3H2903V913.3H2904V912.1H2905V911.9H2906V912.1H2907V913.4H2908V913.2H2909V912.9H2910V913.2H2911V914.4H2912V914.3H2913V914.1H2914V914.0H2915V913.7H2916V914.0H2917V914.6H2918V914.9H2919V915.1H2920V914.0H2921V912.8H2922V912.5H2923V912.8H2924V914.0H2925V914.9H2926V915.2H2927V914.0H2928V913.7H2929V913.6H2930V913.8H2931V913.5H2932V913.2H2933V913.5H2934V913.8H2935V913.5H2936V913.2H2937V913.5H2938V914.7H2939V914.5H2940V913.3H2941V913.0H2942V913.3H2943V914.5H2944V913.9H2945V912.6H2946V912.4H2947V912.6H2948V913.5H2949V913.8H2950V913.8H2951V913.5H2952V913.8H2953V915.0H2954V914.5H2955V913.3H2956V913.0H2957V913.3H2958V914.5H2959V914.8H2960V915.1H2961V915.1H2962V915.0H2963V912.4H2964V911.1H2965V910.9H2966V911.1H2967V912.4H2968V915.5H2969V915.7H2970V914.4H2971V914.2H2972V914.4H2973V915.4H2974V915.1H2975V914.5H2976V913.3H2977V913.0H2978V913.3H2979V914.5H2980V917.8H2981V916.6H2982V914.1H2983V912.8H2984V912.6H2985V912.8H2986V914.1H2987V916.1H2988V916.3H2989V915.4H2990V915.1H2991V915.4H2992V915.3H2993V915.6H2994V915.7H2995V915.4H2996V915.7H2997V916.0H2998V915.7H2999V915.8H3000V915.5H3001V915.8H3002V914.7H3003V914.5H3004V914.7H3005V915.5H3006V914.2H3007V913.8H3008V913.5H3009V913.8H3010V914.4H3011V914.1H3012V914.4H3013V915.2H3014V916.2H3015V916.2H3016V915.9H3017V916.2H3018V917.2H3019V916.9H3020V915.7H3021V915.4H3022V915.7H3023V915.9H3024V915.5H3025V915.2H3026V915.2H3027V913.9H3028V913.7H3029V912.6H3030V912.4H3031V912.6H3032V913.9H3033V916.6H3034V916.6H3035V914.0H3036V912.7H3037V912.5H3038V912.7H3039V914.0H3040V915.3H3041V916.6H3042V916.4H3043V915.3H3044V915.1H3045V915.1H3046V915.4H3047V916.4H3048V916.1H3049V916.4H3050V916.7H3051V917.0H3052V916.8H3053V916.6H3054V916.8H3055V917.2H3056V915.9H3057V915.7H3058V915.9H3059V916.7H3060V916.2H3061V916.0H3062V915.5H3063V915.3H3064V915.5H3065V915.3H3066V915.1H3067V915.3H3068V915.4H3069V915.1H3070V915.4H3071V916.6H3072V917.3H3073V917.1H3074V917.3H3075V918.5H3076V917.2H3077V917.0H3078V917.0H3079V916.5H3080V916.2H3081V916.5H3082V916.4H3083V916.1H3084V916.4H3085V917.6H3086V916.3H3087V915.1H3088V914.8H3089V915.1H3090V916.3H3091V917.1H3092V916.8H3093V917.1H3094V917.7H3095V917.5H3096V917.4H3097V917.2H3098V917.4H3099V918.7H3100V919.2H3101V918.3H3102V915.5H3103V914.2H3104V914.0H3105V914.2H3106V915.5H3107V916.8H3108V917.1H3109V917.2H3110V917.0H3111V917.2H3112V917.8H3113V918.0H3114V917.8H3115V916.5H3116V916.3H3117V916.5H3118V917.8H3119V917.1H3120V916.9H3121V917.1H3122V917.1H3123V916.8H3124V917.1H3125V918.3H3126V918.6H3127V917.9H3128V917.2H3129V915.9H3130V915.7H3131V915.9H3132V916.5H3133V916.7H3134V917.3H3135V917.5H3136V916.3H3137V916.0H3138V916.3H3139V917.5H3140V917.7H3141V918.0H3142V917.1H3143V916.8H3144V917.1H3145V918.0H3146V917.5H3147V917.3H3148V917.5H3149V917.8H3150V918.5H3151V918.8H3152V918.1H3153V917.9H3154V917.8H3155V917.5H3156V917.5H3157V916.2H3158V916.0H3159V916.2H3160V916.9H3161V917.1H3162V918.4H3163V917.8H3164V916.5H3165V916.3H3166V916.5H3167V917.8H3168V916.9H3169V916.7H3170V916.5H3171V916.4H3172V916.2H3173V916.4H3174V917.6H3175V918.7H3176V918.5H3177V917.3H3178V917.0H3179V917.2H3180V917.0H3181V917.2H3182V918.3H3183V918.0H3184V918.3H3185V919.1H3186V919.1H3187V919.3H3188V918.6H3189V917.3H3190V917.1H3191V917.3H3192V917.7H3193V917.9H3194V917.6H3195V917.4H3196V917.6H3197V918.6H3198V918.0H3199V917.8H3200V918.0H3201V917.4H3202V916.2H3203V915.9H3204V916.2H3205V917.4H3206V919.2H3207V919.7H3208V920.0H3209V919.3H3210V918.5H3211V917.3H3212V917.0H3213V917.3H3214V916.9H3215V916.7H3216V916.9H3217V916.8H3218V915.6H3219V915.3H3220V915.6H3221V916.8H3222V918.8H3223V918.0H3224V917.7H3225V917.4H3226V917.2H3227V917.4H3228V917.9H3229V917.0H3230V916.7H3231V917.0H3232V917.4H3233V917.6H3234V917.4H3235V917.5H3236V917.3H3237V917.5H3238V917.9H3239V917.6H3240V917.9H3241V915.6H3242V914.3H3243V914.1H3244V914.3H3245V915.6H3246V917.9H3247V917.6H3248V916.9H3249V916.6H3250V916.9H3251V918.1H3252V919.7H3253V919.5H3254V919.6H3255V917.5H3256V916.3H3257V916.0H3258V916.3H3259V917.5H3260V921.2H3261V921.7H3262V921.9H3263V923.2H3263.3V936.0H3263V940.7H3262V942.0H3261V942.4H3260V943.7H3259V943.9H3258V943.7H3257V942.4H3256V940.7H3255V941.9H3254V942.9H3253V943.2H3252V942.9H3251V944.3H3250V945.6H3249V945.8H3248V945.6H3247V944.3H3246V943.5H3245V943.2H3244V942.0H3243V941.7H3242V941.4H3241V944.6H3240V945.8H3239V946.1H3238V945.8H3237V944.6H3236V941.1H3235V941.1H3234V942.3H3233V942.6H3232V942.3H3231V941.9H3230V942.1H3229V942.3H3228V943.5H3227V943.8H3226V943.5H3225V942.3H3224V941.3H3223V942.5H3222V942.8H3221V942.5H3220V941.3H3219V940.9H3218V941.0H3217V942.2H3216V942.5H3215V942.7H3214V942.8H3213V943.0H3212V943.3H3211V943.5H3210V943.3H3209V942.1H3208V940.6H3207V941.9H3206V942.1H3205V941.9H3204V941.2H3203V940.9H3202V941.5H3201V941.7H3200V941.5H3199V941.0H3198V941.2H3197V941.0H3196V940.9H3195V941.6H3194V941.9H3193V941.7H3192V941.4H3191V941.9H3190V942.2H3189V942.1H3188V941.8H3187V940.6H3186V940.3H3185V940.6H3184V940.8H3183V940.8H3182V942.1H3181V942.3H3180V942.1H3179V942.1H3178V941.9H3177V942.4H3176V943.6H3175V943.8H3174V943.6H3173V942.4H3172V942.3H3171V942.0H3170V940.8H3169V942.0H3168V943.3H3167V943.5H3166V943.3H3165V942.8H3164V942.5H3163V942.6H3162V942.4H3161V941.1H3160V939.9H3159V939.7H3158V939.5H3157V940.8H3156V941.0H3155V941.0H3154V942.2H3153V942.5H3152V942.2H3151V941.5H3150V941.2H3149V941.1H3148V942.4H3147V942.6H3146V942.4H3145V941.1H3144V940.0H3143V940.6H3142V940.8H3141V940.6H3140V939.8H3139V939.8H3138V940.7H3137V940.9H3136V940.7H3135V940.8H3134V940.6H3133V939.3H3132V939.4H3131V940.7H3130V941.4H3129V941.7H3128V941.4H3127V940.9H3126V942.1H3125V942.4H3124V942.1H3123V940.9H3122V940.4H3121V940.1H3120V939.8H3119V940.8H3118V941.0H3117V940.8H3116V942.2H3115V943.4H3114V943.7H3113V943.4H3112V942.2H3111V940.0H3110V940.8H3109V941.1H3108V940.8H3107V940.9H3106V941.2H3105V941.9H3104V942.2H3103V941.9H3102V942.1H3101V942.4H3100V942.1H3099V940.9H3098V940.8H3097V942.0H3096V942.3H3095V942.0H3094V942.5H3093V942.8H3092V942.5H3091V941.3H3090V940.4H3089V940.2H3088V940.5H3087V940.7H3086V940.6H3085V940.9H3084V941.1H3083V942.4H3082V942.6H3081V942.4H3080V941.1H3079V941.2H3078V940.9H3077V939.7H3076V940.0H3075V940.2H3074V940.0H3073V938.9H3072V937.9H3071V938.1H3070V937.9H3069V937.3H3068V937.5H3067V937.8H3066V937.8H3065V938.4H3064V939.6H3063V940.8H3062V941.1H3061V940.8H3060V939.8H3059V939.5H3058V938.9H3057V939.1H3056V939.0H3055V940.0H3054V940.2H3053V940.0H3052V938.9H3051V939.4H3050V940.5H3049V941.7H3048V942.3H3047V942.5H3046V942.3H3045V941.0H3044V941.5H3043V941.8H3042V941.5H3041V940.3H3040V940.6H3039V940.8H3038V940.6H3037V941.1H3036V941.3H3035V941.1H3034V939.9H3033V940.1H3032V940.1H3031V940.7H3030V941.9H3029V942.2H3028V941.9H3027V940.7H3026V939.1H3025V939.9H3024V940.1H3023V939.9H3022V939.9H3021V939.7H3020V938.4H3019V938.8H3018V939.0H3017V938.8H3016V939.2H3015V940.4H3014V940.7H3013V940.4H3012V939.9H3011V938.7H3010V937.6H3009V938.6H3008V938.9H3007V939.1H3006V939.4H3005V941.3H3004V942.5H3003V942.8H3002V942.5H3001V941.3H3000V939.8H2999V939.8H2998V939.6H2997V939.2H2996V938.5H2995V939.1H2994V939.4H2993V939.1H2992V937.9H2991V937.9H2990V939.1H2989V939.4H2988V939.1H2987V938.3H2986V938.0H2985V937.9H2984V938.1H2983V937.9H2982V938.8H2981V939.1H2980V938.8H2979V937.6H2978V937.6H2977V938.6H2976V938.9H2975V938.6H2974V937.4H2973V937.2H2972V937.5H2971V939.3H2970V940.5H2969V940.8H2968V940.5H2967V939.3H2966V937.8H2965V937.5H2964V937.7H2963V938.6H2962V938.9H2961V938.6H2960V937.9H2959V937.7H2958V937.0H2957V937.0H2956V937.0H2955V937.3H2954V937.0H2953V936.6H2952V936.3H2951V936.5H2950V936.7H2949V937.7H2948V938.9H2947V939.2H2946V938.9H2945V937.7H2944V938.0H2943V938.9H2942V940.1H2941V940.4H2940V940.1H2939V938.9H2938V937.2H2937V937.4H2936V937.3H2935V937.6H2934V937.3H2933V937.3H2932V937.0H2931V936.6H2930V937.7H2929V938.0H2928V939.1H2927V940.3H2926V940.6H2925V940.3H2924V939.1H2923V937.1H2922V937.4H2921V938.2H2920V938.4H2919V938.2H2918V937.3H2917V937.1H2916V937.1H2915V937.4H2914V937.5H2913V937.2H2912V937.3H2911V937.6H2910V937.3H2909V938.5H2908V938.7H2907V938.9H2906V939.1H2905V938.9H2904V937.6H2903V934.9H2902V936.0H2901V936.2H2900V936.2H2899V936.0H2898V935.7H2897V936.0H2896V935.7H2895V935.3H2894V936.1H2893V937.3H2892V937.6H2891V937.3H2890V936.1H2889V935.7H2888V936.0H2887V935.7H2886V934.5H2885V935.4H2884V935.7H2883V935.8H2882V935.6H2881V934.5H2880V935.7H2879V936.0H2878V935.7H2877V935.0H2876V937.4H2875V938.6H2874V938.9H2873V938.6H2872V937.6H2871V937.3H2870V936.1H2869V935.4H2868V934.2H2867V934.6H2866V935.3H2865V935.6H2864V935.3H2863V934.1H2862V934.1H2861V934.3H2860V934.0H2859V933.9H2858V935.1H2857V935.4H2856V935.1H2855V934.4H2854V934.2H2853V933.8H2852V935.0H2851V935.3H2850V935.0H2849V935.3H2848V936.5H2847V936.8H2846V936.5H2845V935.3H2844V934.0H2843V933.7H2842V933.6H2841V933.3H2840V933.8H2839V934.0H2838V933.8H2837V933.4H2836V932.9H2835V932.7H2834V932.9H2833V934.8H2832V936.1H2831V936.3H2830V936.1H2829V935.8H2828V935.5H2827V935.3H2826V935.3H2825V935.6H2824V935.3H2823V935.5H2822V935.2H2821V934.8H2820V934.6H2819V933.3H2818V932.4H2817V932.5H2816V933.7H2815V933.9H2814V933.7H2813V932.6H2812V933.8H2811V935.0H2810V935.3H2809V935.0H2808V933.8H2807V932.4H2806V932.7H2805V932.5H2804V932.7H2803V932.5H2802V932.5H2801V932.8H2800V932.5H2799V931.6H2798V932.0H2797V932.2H2796V932.0H2795V932.2H2794V932.6H2793V933.8H2792V934.1H2791V933.8H2790V932.6H2789V931.2H2788V931.3H2787V931.5H2786V931.3H2785V931.1H2784V931.4H2783V931.4H2782V931.1H2781V931.4H2780V931.2H2779V932.4H2778V932.7H2777V932.4H2776V931.2H2775V930.9H2774V930.6H2773V929.4H2772V929.1H2771V928.8H2770V927.9H2769V929.0H2768V930.1H2767V930.4H2766V930.1H2765V929.4H2764V929.1H2763V928.3H2762V928.3H2761V928.5H2760V928.6H2759V928.7H2758V928.5H2757V928.8H2756V928.5H2755V928.2H2754V928.0H2753V928.1H2752V927.9H2751V928.6H2750V929.8H2749V930.1H2748V929.8H2747V929.2H2746V928.9H2745V928.7H2744V928.9H2743V929.2H2742V930.4H2741V930.7H2740V930.4H2739V929.2H2738V928.8H2737V928.5H2736V929.4H2735V929.6H2734V929.4H2733V930.6H2732V930.9H2731V930.6H2730V929.4H2729V927.2H2728V926.2H2727V925.9H2726V929.0H2725V930.2H2724V930.5H2723V930.2H2722V929.0H2721V926.9H2720V926.7H2719V927.1H2718V927.3H2717V927.1H2716V925.9H2715V925.2H2714V924.1H2713V925.5H2712V926.7H2711V927.0H2710V926.7H2709V925.5H2708V924.5H2707V925.9H2706V927.1H2705V927.4H2704V927.1H2703V926.4H2702V926.7H2701V926.4H2700V925.9H2699V925.6H2698V924.7H2697V924.5H2696V925.0H2695V925.3H2694V925.0H2693V924.9H2692V925.2H2691V924.9H2690V923.7H2689V922.4H2688V924.6H2687V925.9H2686V926.4H2685V927.7H2684V927.9H2683V927.7H2682V926.4H2681V925.2H2680V925.5H2679V925.2H2678V924.5H2677V924.8H2676V924.5H2675V923.3H2674V924.4H2673V924.6H2672V924.4H2671V923.1H2670V923.7H2669V923.9H2668V923.7H2667V922.4H2666V922.6H2665V922.9H2664V922.9H2663V922.6H2662V921.8H2661V922.5H2660V922.8H2659V922.5H2658V922.0H2657V922.3H2656V922.3H2655V922.1H2654V920.9H2653V921.3H2652V921.6H2651V921.3H2650V922.4H2649V922.7H2648V922.4H2647V921.2H2646V920.0H2645V919.7H2644V918.9H2643V918.9H2642V919.2H2641V918.9H2640V919.2H2639V920.4H2638V920.7H2637V920.4H2636V919.2H2635V917.3H2634V917.8H2633V918.0H2632V918.8H2631V920.1H2630V920.3H2629V920.1H2628V918.8H2627V917.7H2626V917.2H2625V917.4H2624V919.7H2623V921.0H2622V921.2H2621V921.0H2620V919.7H2619V916.8H2618V917.0H2617V916.8H2616V917.2H2615V917.5H2614V917.4H2613V917.1H2612V915.9H2611V914.8H2610V914.5H2609V914.2H2608V914.5H2607V915.7H2606V917.0H2605V917.2H2604V917.0H2603V915.7H2602V914.4H2601V913.5H2600V913.7H2599V914.0H2598V913.7H2597V912.5H2596V912.7H2595V912.8H2594V913.0H2593V912.8H2592V912.0H2591V913.0H2590V913.3H2589V914.1H2588V915.3H2587V916.6H2586V916.8H2585V916.6H2584V915.3H2583V910.8H2582V911.1H2581V912.4H2580V912.6H2579V912.4H2578V912.2H2577V910.9H2576V910.3H2575V910.5H2574V910.3H2573V910.4H2572V910.1H2571V909.3H2570V910.5H2569V910.8H2568V910.5H2567V910.3H2566V910.0H2565V908.8H2564V908.1H2563V908.1H2562V908.3H2561V908.1H2560V908.6H2559V908.9H2558V908.6H2557V907.4H2556V907.5H2555V908.8H2554V909.5H2553V910.8H2552V911.0H2551V910.8H2550V909.5H2549V906.1H2548V906.3H2547V906.1H2546V905.2H2545V903.9H2544V904.6H2543V905.8H2542V906.1H2541V905.8H2540V904.8H2539V904.9H2538V905.2H2537V905.0H2536V904.8H2535V904.0H2534V904.2H2533V904.0H2532V902.8H2531V902.7H2530V902.5H2529V901.5H2528V902.5H2527V902.7H2526V902.5H2525V902.2H2524V902.5H2523V902.2H2522V901.4H2521V901.1H2520V900.2H2519V900.6H2518V900.8H2517V900.6H2516V899.5H2515V899.2H2514V898.4H2513V899.3H2512V900.5H2511V900.8H2510V900.5H2509V899.3H2508V899.4H2507V900.7H2506V900.9H2505V900.7H2504V899.4H2503V898.9H2502V897.7H2501V896.7H2500V895.8H2499V895.8H2498V895.6H2497V895.3H2496V896.5H2495V896.8H2494V896.5H2493V895.3H2492V894.1H2491V893.9H2490V895.9H2489V897.2H2488V897.4H2487V897.2H2486V895.9H2485V894.3H2484V893.0H2483V892.4H2482V892.2H2481V892.0H2480V891.6H2479V891.9H2478V891.6H2477V890.4H2476V890.0H2475V889.7H2474V892.4H2473V893.6H2472V893.9H2471V893.6H2470V892.4H2469V890.5H2468V889.3H2467V889.2H2466V889.7H2465V889.9H2464V889.9H2463V889.7H2462V888.5H2461V887.4H2460V886.5H2459V886.3H2458V886.5H2457V886.3H2456V887.0H2455V887.2H2454V887.0H2453V886.2H2452V886.0H2451V885.6H2450V884.4H2449V882.5H2448V882.7H2447V884.1H2446V885.3H2445V885.5H2444V885.3H2443V884.1H2442V881.2H2441V880.0H2440V879.3H2439V879.5H2438V879.3H2437V879.0H2436V878.7H2435V878.9H2434V878.7H2433V877.7H2432V878.0H2431V877.7H2430V877.6H2429V877.9H2428V877.6H2427V877.0H2426V878.0H2425V879.2H2424V879.5H2423V879.2H2422V878.0H2421V873.1H2420V872.9H2419V872.4H2418V873.7H2417V874.4H2416V874.7H2415V874.4H2414V874.2H2413V873.9H2412V872.7H2411V872.2H2410V871.2H2409V870.9H2408V870.7H2407V869.5H2406V867.7H2405V868.3H2404V868.5H2403V868.8H2402V869.1H2401V868.8H2400V867.6H2399V867.2H2398V867.0H2397V866.6H2396V866.1H2395V865.2H2394V865.9H2393V867.1H2392V867.4H2391V867.1H2390V866.3H2389V866.0H2388V864.8H2387V862.7H2386V861.2H2385V860.2H2384V860.8H2383V861.1H2382V860.9H2381V860.6H2380V860.5H2379V861.3H2378V861.6H2377V861.3H2376V860.1H2375V858.6H2374V858.4H2373V857.9H2372V858.1H2371V857.9H2370V856.7H2369V854.7H2368V854.4H2367V854.6H2366V854.4H2365V853.7H2364V854.0H2363V853.7H2362V852.6H2361V853.2H2360V853.4H2359V853.2H2358V851.9H2357V850.1H2356V848.9H2355V848.4H2354V849.6H2353V849.8H2352V849.6H2351V848.9H2350V847.6H2349V845.9H2348V844.6H2347V844.4H2346V844.7H2345V844.4H2344V843.9H2343V842.9H2342V842.0H2341V841.7H2340V841.7H2339V842.0H2338V841.7H2337V841.4H2336V842.1H2335V842.3H2334V842.1H2333V840.8H2332V838.2H2331V838.8H2330V839.1H2329V838.8H2328V838.2H2327V837.9H2326V836.7H2325V834.5H2324V833.3H2323V832.4H2322V832.7H2321V832.4H2320V831.2H2319V830.8H2318V831.1H2317V830.8H2316V829.6H2315V828.0H2314V827.1H2313V827.2H2312V827.5H2311V827.2H2310V826.0H2309V824.3H2308V825.1H2307V825.4H2306V825.4H2305V825.6H2304V825.4H2303V824.1H2302V822.9H2301V822.6H2300V821.4H2299V820.8H2298V820.6H2297V819.4H2296V819.1H2295V817.9H2294V817.7H2293V817.4H2292V816.2H2291V815.3H2290V815.5H2289V815.3H2288V814.3H2287V814.1H2286V812.8H2285V814.0H2284V814.2H2283V814.0H2282V812.7H2281V811.2H2280V807.6H2279V808.1H2278V808.4H2277V808.1H2276V806.9H2275V880.3H2274V881.6H2273V882.0H2272V883.2H2271V883.5H2270V883.2H2269V882.0H2268V879.7H2267V878.5H2266V878.3H2265V882.6H2264V883.8H2263V884.1H2262V883.8H2261V882.6H2260V879.3H2259V880.2H2258V880.5H2257V881.6H2256V881.9H2255V881.6H2254V882.9H2253V883.1H2252V882.9H2251V881.6H2250V881.0H2249V880.8H2248V879.8H2247V879.5H2246V879.7H2245V879.4H2244V879.5H2243V879.7H2242V879.5H2241V880.0H2240V880.3H2239V880.0H2238V879.3H2237V879.5H2236V879.3H2235V880.3H2234V880.5H2233V880.3H2232V880.7H2231V880.9H2230V881.1H2229V881.4H2228V881.1H2227V879.9H2226V879.2H2225V879.5H2224V879.2H2223V878.6H2222V880.4H2221V881.7H2220V881.9H2219V882.4H2218V882.7H2217V882.4H2216V881.7H2215V882.0H2214V881.7H2213V881.0H2212V879.8H2211V879.2H2210V880.8H2209V882.1H2208V882.3H2207V882.1H2206V880.8H2205V878.4H2204V879.3H2203V879.9H2202V880.1H2201V879.9H2200V881.2H2199V882.4H2198V882.7H2197V882.4H2196V881.2H2195V879.7H2194V881.0H2193V881.2H2192V881.0H2191V879.7H2190V878.3H2189V878.3H2188V878.6H2187V879.9H2186V880.1H2185V879.9H2184V879.9H2183V880.2H2182V879.9H2181V879.1H2180V879.8H2179V880.1H2178V879.8H2177V879.1H2176V879.0H2175V879.3H2174V879.0H2173V878.8H2172V880.0H2171V880.3H2170V880.7H2169V881.9H2168V882.2H2167V882.2H2166V881.9H2165V880.7H2164V878.9H2163V878.6H2162V878.2H2161V878.8H2160V879.0H2159V878.8H2158V878.9H2157V879.1H2156V878.9H2155V878.6H2154V878.3H2153V877.7H2152V877.9H2151V877.9H2150V877.7H2149V876.6H2148V876.8H2147V881.2H2146V882.4H2145V882.7H2144V882.4H2143V881.2H2142V880.0H2141V879.8H2140V879.9H2139V879.7H2138V879.2H2137V879.3H2136V879.0H2135V879.0H2134V879.3H2133V879.3H2132V879.0H2131V879.1H2130V880.3H2129V880.6H2128V880.3H2127V881.2H2126V881.5H2125V881.2H2124V880.0H2123V879.7H2122V880.9H2121V881.2H2120V880.9H2119V879.7H2118V877.3H2117V877.1H2116V877.3H2115V877.3H2114V877.6H2113V877.7H2112V878.0H2111V877.8H2110V878.3H2109V878.9H2108V880.1H2107V880.4H2106V880.1H2105V878.9H2104V876.7H2103V876.5H2102V877.0H2101V877.2H2100V877.0H2099V881.2H2098V882.5H2097V882.7H2096V882.5H2095V881.2H2094V878.0H2093V877.8H2092V876.5H2091V878.3H2090V879.6H2089V879.8H2088V879.6H2087V878.3H2086V876.7H2085V876.4H2084V875.5H2083V875.9H2082V876.2H2081V876.6H2080V876.9H2079V876.6H2078V876.5H2077V876.6H2076V876.8H2075V876.5H2074V875.7H2073V875.3H2072V875.7H2071V875.9H2070V875.7H2069V875.1H2068V876.5H2067V877.8H2066V878.0H2065V877.8H2064V876.5H2063V874.9H2062V875.8H2061V876.1H2060V875.8H2059V875.9H2058V876.3H2057V876.5H2056V876.3H2055V875.0H2054V875.5H2053V876.7H2052V877.0H2051V877.4H2050V877.7H2049V877.4H2048V876.2H2047V874.7H2046V874.6H2045V875.8H2044V876.0H2043V875.8H2042V874.6H2041V872.8H2040V873.5H2039V874.8H2038V875.0H2037V874.8H2036V875.0H2035V876.2H2034V876.5H2033V876.2H2032V875.0H2031V875.0H2030V875.3H2029V875.1H2028V876.3H2027V876.6H2026V876.3H2025V875.1H2024V874.3H2023V875.5H2022V875.8H2021V875.5H2020V874.5H2019V874.8H2018V874.5H2017V873.3H2016V873.5H2015V873.8H2014V873.7H2013V873.9H2012V873.7H2011V874.2H2010V874.4H2009V874.2H2008V872.9H2007V872.4H2006V872.3H2005V873.4H2004V874.1H2003V874.4H2002V874.1H2001V873.3H2000V873.0H1999V874.4H1998V875.7H1997V875.9H1996V875.9H1995V875.7H1994V874.4H1993V874.2H1992V874.0H1991V872.7H1990V870.8H1989V872.0H1988V874.3H1987V875.5H1986V875.8H1985V875.5H1984V875.6H1983V876.9H1982V877.1H1981V876.9H1980V875.9H1979V874.7H1978V874.2H1977V874.5H1976V874.2H1975V873.0H1974V871.9H1973V872.2H1972V871.9H1971V872.0H1970V872.6H1969V873.8H1968V874.1H1967V874.1H1966V873.8H1965V872.6H1964V870.0H1963V869.2H1962V871.2H1961V872.5H1960V872.7H1959V872.5H1958V871.2H1957V870.7H1956V870.1H1955V870.3H1954V870.1H1953V868.8H1952V869.3H1951V870.5H1950V870.8H1949V870.5H1948V869.3H1947V870.0H1946V870.3H1945V870.0H1944V869.0H1943V868.8H1942V869.6H1941V869.8H1940V870.1H1939V870.4H1938V870.1H1937V870.0H1936V869.8H1935V870.1H1934V870.3H1933V870.1H1932V868.8H1931V865.9H1930V868.9H1929V870.1H1928V870.4H1927V870.1H1926V868.9H1925V868.3H1924V867.1H1923V865.9H1922V866.1H1921V865.9H1920V866.1H1919V866.3H1918V866.1H1917V867.9H1916V869.2H1915V869.4H1914V869.2H1913V867.9H1912V865.4H1911V865.7H1910V866.1H1909V866.3H1908V866.1H1907V866.3H1906V866.0H1905V865.7H1904V865.4H1903V864.7H1902V864.6H1901V864.8H1900V864.6H1899V864.9H1898V864.6H1897V863.4H1896V863.7H1895V864.0H1894V863.7H1893V862.9H1892V861.7H1891V861.6H1890V862.9H1889V863.1H1888V862.9H1887V862.3H1886V862.1H1885V861.3H1884V860.7H1883V861.7H1882V862.0H1881V861.7H1880V861.4H1879V861.1H1878V859.9H1877V858.5H1876V858.8H1875V859.7H1874V859.9H1873V859.7H1872V858.4H1871V857.5H1870V856.3H1869V854.8H1868V853.6H1867V852.5H1866V852.8H1865V852.5H1864V851.3H1863V847.8H1862V846.8H1861V845.6H1860V841.7H1859V839.4H1858V838.2H1857V834.5H1856V833.2H1855V830.3H1854V828.4H1853V827.2H1852V814.6H1851V802.7H1850V790.6H1849V774.0H1848.7Z" fill="#1f77b4" fill-opacity="0.8"/></g>
<g clip-path="url(#clip1)"><line x1="2272.02" y1="989.0" x2="2272.02" y2="65.0" stroke="#ff0000" stroke-width="4.17" stroke-dasharray="15.42 6.67"/></g>
<circle cx="1991.84" cy="858.89" r="9.82" fill="#482475"/>
<circle cx="2132.88" cy="858.60" r="9.82" fill="#414487"/>
<circle cx="2272.52" cy="776.61" r="9.82" fill="#355f8d"/>
<circle cx="2414.96" cy="854.86" r="9.82" fill="#2a788e"/>
<circle cx="2556.00" cy="898.59" r="9.82" fill="#21918c"/>
<circle cx="2697.04" cy="914.41" r="9.82" fill="#22a884"/>
<circle cx="2838.08" cy="922.76" r="9.82" fill="#44bf70"/>
<circle cx="2979.12" cy="926.78" r="9.82" fill="#7ad151"/>
<circle cx="3120.16" cy="928.51" r="9.82" fill="#bddf26"/>
<rect x="1781.0" y="65.0" width="1550.0" height="924.0" fill="none" stroke="#000" stroke-width="2.22" stroke-linejoin="miter"/>
<g stroke="#000" stroke-width="2.22">
<line x1="1850.80" y1="989.0" x2="1850.80" y2="998.72"/>
<line x1="2132.88" y1="989.0" x2="2132.88" y2="998.72"/>
<line x1="2414.96" y1="989.0" x2="2414.96" y2="998.72"/>
<line x1="2697.04" y1="989.0" x2="2697.04" y2="998.72"/>
<line x1="2979.12" y1="989.0" x2="2979.12" y2="998.72"/>
<line x1="3261.20" y1="989.0" x2="3261.20" y2="998.72"/>
<line x1="1781.0" y1="931.10" x2="1771.28" y2="931.10"/>
<line x1="1781.0" y1="787.25" x2="1771.28" y2="787.25"/>
<line x1="1781.0" y1="643.40" x2="1771.28" y2="643.40"/>
<line x1="1781.0" y1="499.55" x2="1771.28" y2="499.55"/>
<line x1="1781.0" y1="355.70" x2="1771.28" y2="355.70"/>
<line x1="1781.0" y1="211.85" x2="1771.28" y2="211.85"/>
<line x1="1781.0" y1="68.00" x2="1771.28" y2="68.00"/>
</g>
<g font-size="27.8" fill="#000">
<text x="1849.80" y="1029.1" text-anchor="middle" textLength="16.7" lengthAdjust="spacing">0</text>
<text x="2131.88" y="1029.1" text-anchor="middle" textLength="83.3" lengthAdjust="spacing">10000</text>
<text x="2413.96" y="1029.1" text-anchor="middle" textLength="83.3" lengthAdjust="spacing">20000</text>
<text x="2696.04" y="1029.1" text-anchor="middle" textLength="83.3" lengthAdjust="spacing">30000</text>
<text x="2978.12" y="1029.1" text-anchor="middle" textLength="83.3" lengthAdjust="spacing">40000</text>
<text x="3260.20" y="1029.1" text-anchor="middle" textLength="83.3" lengthAdjust="spacing">50000</text>
<text x="1760.38" y="940.95" text-anchor="end" textLength="17.1" lengthAdjust="spacing">0</text>
<text x="1760.38" y="797.10" text-anchor="end" textLength="17.1" lengthAdjust="spacing">5</text>
<text x="1760.38" y="653.25" text-anchor="end" textLength="34.1" lengthAdjust="spacing">10</text>
<text x="1760.38" y="509.40" text-anchor="end" textLength="34.1" lengthAdjust="spacing">15</text>
<text x="1760.38" y="365.55" text-anchor="end" textLength="34.1" lengthAdjust="spacing">20</text>
<text x="1760.38" y="221.70" text-anchor="end" textLength="34.1" lengthAdjust="spacing">25</text>
<text x="1760.38" y="77.85" text-anchor="end" textLength="34.1" lengthAdjust="spacing">30</text>
</g>
<text x="2556.0" y="1069.7" font-size="28.6" text-anchor="middle" textLength="76" lengthAdjust="spacingAndGlyphs">Steps</text>
<text transform="translate(1707.9,529.0) rotate(-90)" x="0" y="0" font-size="28.6" text-anchor="middle" textLength="56" lengthAdjust="spacingAndGlyphs">Loss</text>
<text x="2555.0" y="47.6" font-size="35.8" text-anchor="middle" textLength="893" lengthAdjust="spacingAndGlyphs">Billion Parameter LLM Training and Development Loss</text>
<rect x="2994.5" y="78.5" width="322" height="134" rx="5" ry="5" fill="#ffffff" fill-opacity="0.8" stroke="#d6d6d6" stroke-width="2.22"/>
<g opacity="0.8"><line x1="3003.0" y1="99.9" x2="3061.5" y2="99.9" stroke="#1f77b4" stroke-width="4.17"/></g>
<circle cx="3032.3" cy="146.6" r="9.82" fill="#440154"/>
<line x1="3005.5" y1="183.6" x2="3059.5" y2="183.6" stroke="#ff0000" stroke-width="4.17" stroke-dasharray="15.42 6.67"/>
<text x="3080.5" y="112.2" font-size="28.6" textLength="180" lengthAdjust="spacingAndGlyphs">Training Loss</text>
<text x="3080.5" y="153.7" font-size="28.6" textLength="221" lengthAdjust="spacingAndGlyphs">Dev Loss Step 0</text>
<text x="3080.5" y="195.9" font-size="28.6" textLength="202" lengthAdjust="spacingAndGlyphs">LR Decay Step</text>
</svg></body></html>
